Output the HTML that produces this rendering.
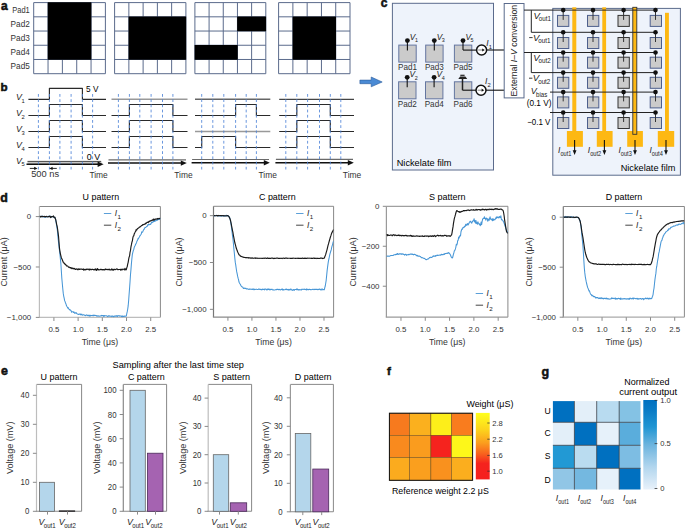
<!DOCTYPE html>
<html><head><meta charset="utf-8"><style>
html,body{margin:0;padding:0;background:#fff;overflow:hidden;width:685px;height:528px;}
svg{display:block;}
text{font-family:"Liberation Sans", sans-serif;}
</style></head><body>
<svg width="685" height="528" viewBox="0 0 685 528" font-family='"Liberation Sans", sans-serif'>
<rect x="0" y="0" width="685" height="528" fill="#fff"/>
<text x="1.00" y="10.00" font-size="12" fill="#111" font-weight="bold" stroke="#111" stroke-width="0.55">a</text>
<line x1="33.70" y1="2.60" x2="33.70" y2="73.70" stroke="#5b6b8c" stroke-width="1" />
<line x1="33.70" y1="2.60" x2="105.40" y2="2.60" stroke="#5b6b8c" stroke-width="1" />
<line x1="48.04" y1="2.60" x2="48.04" y2="73.70" stroke="#5b6b8c" stroke-width="1" />
<line x1="33.70" y1="16.82" x2="105.40" y2="16.82" stroke="#5b6b8c" stroke-width="1" />
<line x1="62.38" y1="2.60" x2="62.38" y2="73.70" stroke="#5b6b8c" stroke-width="1" />
<line x1="33.70" y1="31.04" x2="105.40" y2="31.04" stroke="#5b6b8c" stroke-width="1" />
<line x1="76.72" y1="2.60" x2="76.72" y2="73.70" stroke="#5b6b8c" stroke-width="1" />
<line x1="33.70" y1="45.26" x2="105.40" y2="45.26" stroke="#5b6b8c" stroke-width="1" />
<line x1="91.06" y1="2.60" x2="91.06" y2="73.70" stroke="#5b6b8c" stroke-width="1" />
<line x1="33.70" y1="59.48" x2="105.40" y2="59.48" stroke="#5b6b8c" stroke-width="1" />
<line x1="105.40" y1="2.60" x2="105.40" y2="73.70" stroke="#5b6b8c" stroke-width="1" />
<line x1="33.70" y1="73.70" x2="105.40" y2="73.70" stroke="#5b6b8c" stroke-width="1" />
<path d="M47.74,2.30h14.94v14.82h-14.94ZM62.08,2.30h14.94v14.82h-14.94ZM76.42,2.30h14.94v14.82h-14.94ZM47.74,16.52h14.94v14.82h-14.94ZM62.08,16.52h14.94v14.82h-14.94ZM76.42,16.52h14.94v14.82h-14.94ZM47.74,30.74h14.94v14.82h-14.94ZM62.08,30.74h14.94v14.82h-14.94ZM76.42,30.74h14.94v14.82h-14.94ZM47.74,44.96h14.94v14.82h-14.94ZM62.08,44.96h14.94v14.82h-14.94ZM76.42,44.96h14.94v14.82h-14.94Z" fill="#000"/>
<line x1="114.60" y1="2.60" x2="114.60" y2="73.70" stroke="#5b6b8c" stroke-width="1" />
<line x1="114.60" y1="2.60" x2="185.90" y2="2.60" stroke="#5b6b8c" stroke-width="1" />
<line x1="128.86" y1="2.60" x2="128.86" y2="73.70" stroke="#5b6b8c" stroke-width="1" />
<line x1="114.60" y1="16.82" x2="185.90" y2="16.82" stroke="#5b6b8c" stroke-width="1" />
<line x1="143.12" y1="2.60" x2="143.12" y2="73.70" stroke="#5b6b8c" stroke-width="1" />
<line x1="114.60" y1="31.04" x2="185.90" y2="31.04" stroke="#5b6b8c" stroke-width="1" />
<line x1="157.38" y1="2.60" x2="157.38" y2="73.70" stroke="#5b6b8c" stroke-width="1" />
<line x1="114.60" y1="45.26" x2="185.90" y2="45.26" stroke="#5b6b8c" stroke-width="1" />
<line x1="171.64" y1="2.60" x2="171.64" y2="73.70" stroke="#5b6b8c" stroke-width="1" />
<line x1="114.60" y1="59.48" x2="185.90" y2="59.48" stroke="#5b6b8c" stroke-width="1" />
<line x1="185.90" y1="2.60" x2="185.90" y2="73.70" stroke="#5b6b8c" stroke-width="1" />
<line x1="114.60" y1="73.70" x2="185.90" y2="73.70" stroke="#5b6b8c" stroke-width="1" />
<path d="M128.56,16.52h14.86v14.82h-14.86ZM142.82,16.52h14.86v14.82h-14.86ZM157.08,16.52h14.86v14.82h-14.86ZM171.34,16.52h14.86v14.82h-14.86ZM128.56,30.74h14.86v14.82h-14.86ZM142.82,30.74h14.86v14.82h-14.86ZM157.08,30.74h14.86v14.82h-14.86ZM171.34,30.74h14.86v14.82h-14.86ZM128.56,44.96h14.86v14.82h-14.86ZM142.82,44.96h14.86v14.82h-14.86ZM157.08,44.96h14.86v14.82h-14.86ZM171.34,44.96h14.86v14.82h-14.86Z" fill="#000"/>
<line x1="194.90" y1="2.60" x2="194.90" y2="73.70" stroke="#5b6b8c" stroke-width="1" />
<line x1="194.90" y1="2.60" x2="265.80" y2="2.60" stroke="#5b6b8c" stroke-width="1" />
<line x1="209.08" y1="2.60" x2="209.08" y2="73.70" stroke="#5b6b8c" stroke-width="1" />
<line x1="194.90" y1="16.82" x2="265.80" y2="16.82" stroke="#5b6b8c" stroke-width="1" />
<line x1="223.26" y1="2.60" x2="223.26" y2="73.70" stroke="#5b6b8c" stroke-width="1" />
<line x1="194.90" y1="31.04" x2="265.80" y2="31.04" stroke="#5b6b8c" stroke-width="1" />
<line x1="237.44" y1="2.60" x2="237.44" y2="73.70" stroke="#5b6b8c" stroke-width="1" />
<line x1="194.90" y1="45.26" x2="265.80" y2="45.26" stroke="#5b6b8c" stroke-width="1" />
<line x1="251.62" y1="2.60" x2="251.62" y2="73.70" stroke="#5b6b8c" stroke-width="1" />
<line x1="194.90" y1="59.48" x2="265.80" y2="59.48" stroke="#5b6b8c" stroke-width="1" />
<line x1="265.80" y1="2.60" x2="265.80" y2="73.70" stroke="#5b6b8c" stroke-width="1" />
<line x1="194.90" y1="73.70" x2="265.80" y2="73.70" stroke="#5b6b8c" stroke-width="1" />
<path d="M237.14,16.52h14.78v14.82h-14.78ZM251.32,16.52h14.78v14.82h-14.78ZM194.60,44.96h14.78v14.82h-14.78ZM208.78,44.96h14.78v14.82h-14.78ZM222.96,44.96h14.78v14.82h-14.78Z" fill="#000"/>
<line x1="278.60" y1="2.60" x2="278.60" y2="73.70" stroke="#5b6b8c" stroke-width="1" />
<line x1="278.60" y1="2.60" x2="350.00" y2="2.60" stroke="#5b6b8c" stroke-width="1" />
<line x1="292.88" y1="2.60" x2="292.88" y2="73.70" stroke="#5b6b8c" stroke-width="1" />
<line x1="278.60" y1="16.82" x2="350.00" y2="16.82" stroke="#5b6b8c" stroke-width="1" />
<line x1="307.16" y1="2.60" x2="307.16" y2="73.70" stroke="#5b6b8c" stroke-width="1" />
<line x1="278.60" y1="31.04" x2="350.00" y2="31.04" stroke="#5b6b8c" stroke-width="1" />
<line x1="321.44" y1="2.60" x2="321.44" y2="73.70" stroke="#5b6b8c" stroke-width="1" />
<line x1="278.60" y1="45.26" x2="350.00" y2="45.26" stroke="#5b6b8c" stroke-width="1" />
<line x1="335.72" y1="2.60" x2="335.72" y2="73.70" stroke="#5b6b8c" stroke-width="1" />
<line x1="278.60" y1="59.48" x2="350.00" y2="59.48" stroke="#5b6b8c" stroke-width="1" />
<line x1="350.00" y1="2.60" x2="350.00" y2="73.70" stroke="#5b6b8c" stroke-width="1" />
<line x1="278.60" y1="73.70" x2="350.00" y2="73.70" stroke="#5b6b8c" stroke-width="1" />
<path d="M292.58,16.52h14.88v14.82h-14.88ZM306.86,16.52h14.88v14.82h-14.88ZM321.14,16.52h14.88v14.82h-14.88ZM292.58,30.74h14.88v14.82h-14.88ZM306.86,30.74h14.88v14.82h-14.88ZM321.14,30.74h14.88v14.82h-14.88ZM292.58,44.96h14.88v14.82h-14.88ZM306.86,44.96h14.88v14.82h-14.88ZM321.14,44.96h14.88v14.82h-14.88Z" fill="#000"/>
<text x="29.80" y="12.51" font-size="9.0" text-anchor="end" fill="#333" textLength="17.5" lengthAdjust="spacingAndGlyphs" >Pad1</text>
<text x="29.80" y="26.73" font-size="9.0" text-anchor="end" fill="#333" textLength="19.2" lengthAdjust="spacingAndGlyphs" >Pad2</text>
<text x="29.80" y="40.95" font-size="9.0" text-anchor="end" fill="#333" textLength="19.2" lengthAdjust="spacingAndGlyphs" >Pad3</text>
<text x="29.80" y="55.17" font-size="9.0" text-anchor="end" fill="#333" textLength="19.2" lengthAdjust="spacingAndGlyphs" >Pad4</text>
<text x="29.80" y="69.39" font-size="9.0" text-anchor="end" fill="#333" textLength="19.2" lengthAdjust="spacingAndGlyphs" >Pad5</text>
<text x="0.60" y="90.60" font-size="11.6" fill="#111" font-weight="bold" stroke="#111" stroke-width="0.55">b</text>
<polyline points="28.40,99.30 49.40,99.30 49.40,88.30 82.40,88.30 82.40,99.30 106.00,99.30" fill="none" stroke="#2a2a2a" stroke-width="1.15" stroke-linejoin="round" />
<polyline points="28.40,115.50 49.40,115.50 49.40,104.50 82.40,104.50 82.40,115.50 106.00,115.50" fill="none" stroke="#2a2a2a" stroke-width="1.15" stroke-linejoin="round" />
<polyline points="28.40,131.50 49.40,131.50 49.40,120.50 82.40,120.50 82.40,131.50 106.00,131.50" fill="none" stroke="#2a2a2a" stroke-width="1.15" stroke-linejoin="round" />
<polyline points="28.40,147.50 49.40,147.50 49.40,136.50 82.40,136.50 82.40,147.50 106.00,147.50" fill="none" stroke="#2a2a2a" stroke-width="1.15" stroke-linejoin="round" />
<rect x="27.50" y="161.40" width="74.10" height="2.80" fill="#c8c8c8" stroke="none" stroke-width="1" />
<line x1="27.50" y1="161.40" x2="101.10" y2="161.40" stroke="#333" stroke-width="0.9" />
<line x1="26.50" y1="164.20" x2="99.60" y2="164.20" stroke="#111" stroke-width="1.5" />
<path d="M103.60,164.2 L97.60,161.50 L97.60,166.90 Z" fill="#111"/>
<line x1="38.40" y1="94.00" x2="38.40" y2="169.50" stroke="#4f84d8" stroke-width="0.85" stroke-dasharray="2.8,2.4"/>
<line x1="49.40" y1="94.00" x2="49.40" y2="169.50" stroke="#4f84d8" stroke-width="0.85" stroke-dasharray="2.8,2.4"/>
<line x1="59.90" y1="94.00" x2="59.90" y2="169.50" stroke="#4f84d8" stroke-width="0.85" stroke-dasharray="2.8,2.4"/>
<line x1="71.10" y1="94.00" x2="71.10" y2="169.50" stroke="#4f84d8" stroke-width="0.85" stroke-dasharray="2.8,2.4"/>
<line x1="82.40" y1="94.00" x2="82.40" y2="169.50" stroke="#4f84d8" stroke-width="0.85" stroke-dasharray="2.8,2.4"/>
<line x1="92.60" y1="94.00" x2="92.60" y2="169.50" stroke="#4f84d8" stroke-width="0.85" stroke-dasharray="2.8,2.4"/>
<text x="89.40" y="177.60" font-size="8.8" fill="#333" textLength="18.4" lengthAdjust="spacingAndGlyphs" >Time</text>
<line x1="111.50" y1="99.30" x2="187.50" y2="99.30" stroke="#999" stroke-width="1.6" />
<polyline points="111.50,115.50 129.40,115.50 129.40,104.50 172.90,104.50 172.90,115.50 187.50,115.50" fill="none" stroke="#2a2a2a" stroke-width="1.15" stroke-linejoin="round" />
<polyline points="111.50,131.50 129.40,131.50 129.40,120.50 172.90,120.50 172.90,131.50 187.50,131.50" fill="none" stroke="#2a2a2a" stroke-width="1.15" stroke-linejoin="round" />
<polyline points="111.50,147.50 129.40,147.50 129.40,136.50 172.90,136.50 172.90,147.50 187.50,147.50" fill="none" stroke="#2a2a2a" stroke-width="1.15" stroke-linejoin="round" />
<line x1="108.50" y1="159.90" x2="186.00" y2="159.90" stroke="#6a6a6a" stroke-width="1.1" />
<line x1="108.00" y1="163.10" x2="182.80" y2="163.10" stroke="#111" stroke-width="1.5" />
<path d="M186.80,163.1 L180.80,160.40 L180.80,165.80 Z" fill="#111"/>
<line x1="118.40" y1="94.00" x2="118.40" y2="169.50" stroke="#4f84d8" stroke-width="0.85" stroke-dasharray="2.8,2.4"/>
<line x1="129.40" y1="94.00" x2="129.40" y2="169.50" stroke="#4f84d8" stroke-width="0.85" stroke-dasharray="2.8,2.4"/>
<line x1="139.80" y1="94.00" x2="139.80" y2="169.50" stroke="#4f84d8" stroke-width="0.85" stroke-dasharray="2.8,2.4"/>
<line x1="151.10" y1="94.00" x2="151.10" y2="169.50" stroke="#4f84d8" stroke-width="0.85" stroke-dasharray="2.8,2.4"/>
<line x1="162.50" y1="94.00" x2="162.50" y2="169.50" stroke="#4f84d8" stroke-width="0.85" stroke-dasharray="2.8,2.4"/>
<line x1="172.90" y1="94.00" x2="172.90" y2="169.50" stroke="#4f84d8" stroke-width="0.85" stroke-dasharray="2.8,2.4"/>
<text x="174.20" y="177.60" font-size="8.8" fill="#333" textLength="18.4" lengthAdjust="spacingAndGlyphs" >Time</text>
<line x1="195.00" y1="99.30" x2="270.30" y2="99.30" stroke="#666" stroke-width="1.4" />
<polyline points="195.00,115.50 235.60,115.50 235.60,104.50 256.40,104.50 256.40,115.50 270.30,115.50" fill="none" stroke="#2a2a2a" stroke-width="1.15" stroke-linejoin="round" />
<line x1="195.00" y1="131.50" x2="270.30" y2="131.50" stroke="#999" stroke-width="1.6" />
<polyline points="195.00,147.50 201.70,147.50 201.70,136.50 235.60,136.50 235.60,147.50 270.30,147.50" fill="none" stroke="#2a2a2a" stroke-width="1.15" stroke-linejoin="round" />
<line x1="192.10" y1="159.50" x2="269.00" y2="159.50" stroke="#6a6a6a" stroke-width="1.1" />
<line x1="191.60" y1="162.80" x2="265.80" y2="162.80" stroke="#111" stroke-width="1.5" />
<path d="M269.80,162.8 L263.80,160.10 L263.80,165.50 Z" fill="#111"/>
<line x1="201.70" y1="94.00" x2="201.70" y2="169.50" stroke="#4f84d8" stroke-width="0.85" stroke-dasharray="2.8,2.4"/>
<line x1="212.80" y1="94.00" x2="212.80" y2="169.50" stroke="#4f84d8" stroke-width="0.85" stroke-dasharray="2.8,2.4"/>
<line x1="223.80" y1="94.00" x2="223.80" y2="169.50" stroke="#4f84d8" stroke-width="0.85" stroke-dasharray="2.8,2.4"/>
<line x1="235.60" y1="94.00" x2="235.60" y2="169.50" stroke="#4f84d8" stroke-width="0.85" stroke-dasharray="2.8,2.4"/>
<line x1="246.20" y1="94.00" x2="246.20" y2="169.50" stroke="#4f84d8" stroke-width="0.85" stroke-dasharray="2.8,2.4"/>
<line x1="256.40" y1="94.00" x2="256.40" y2="169.50" stroke="#4f84d8" stroke-width="0.85" stroke-dasharray="2.8,2.4"/>
<text x="258.50" y="177.60" font-size="8.8" fill="#333" textLength="18.4" lengthAdjust="spacingAndGlyphs" >Time</text>
<line x1="279.20" y1="99.30" x2="354.00" y2="99.30" stroke="#444" stroke-width="1.2" />
<polyline points="279.20,115.50 296.80,115.50 296.80,104.50 330.30,104.50 330.30,115.50 354.00,115.50" fill="none" stroke="#2a2a2a" stroke-width="1.15" stroke-linejoin="round" />
<polyline points="279.20,131.50 296.80,131.50 296.80,120.50 330.30,120.50 330.30,131.50 354.00,131.50" fill="none" stroke="#2a2a2a" stroke-width="1.15" stroke-linejoin="round" />
<polyline points="279.20,147.50 296.80,147.50 296.80,136.50 330.30,136.50 330.30,147.50 354.00,147.50" fill="none" stroke="#2a2a2a" stroke-width="1.15" stroke-linejoin="round" />
<line x1="275.90" y1="159.40" x2="353.00" y2="159.40" stroke="#6a6a6a" stroke-width="1.1" />
<line x1="275.40" y1="162.80" x2="349.80" y2="162.80" stroke="#111" stroke-width="1.5" />
<path d="M353.80,162.8 L347.80,160.10 L347.80,165.50 Z" fill="#111"/>
<line x1="285.80" y1="94.00" x2="285.80" y2="169.50" stroke="#4f84d8" stroke-width="0.85" stroke-dasharray="2.8,2.4"/>
<line x1="296.80" y1="94.00" x2="296.80" y2="169.50" stroke="#4f84d8" stroke-width="0.85" stroke-dasharray="2.8,2.4"/>
<line x1="307.60" y1="94.00" x2="307.60" y2="169.50" stroke="#4f84d8" stroke-width="0.85" stroke-dasharray="2.8,2.4"/>
<line x1="319.50" y1="94.00" x2="319.50" y2="169.50" stroke="#4f84d8" stroke-width="0.85" stroke-dasharray="2.8,2.4"/>
<line x1="330.30" y1="94.00" x2="330.30" y2="169.50" stroke="#4f84d8" stroke-width="0.85" stroke-dasharray="2.8,2.4"/>
<line x1="340.80" y1="94.00" x2="340.80" y2="169.50" stroke="#4f84d8" stroke-width="0.85" stroke-dasharray="2.8,2.4"/>
<text x="342.80" y="177.60" font-size="8.8" fill="#333" textLength="18.4" lengthAdjust="spacingAndGlyphs" >Time</text>
<text x="16.00" y="100.10" font-size="8.8" fill="#222"><tspan font-style="italic">V</tspan><tspan font-size="5.80" dx="-0.5" dy="2.4">1</tspan></text>
<text x="16.00" y="116.30" font-size="8.8" fill="#222"><tspan font-style="italic">V</tspan><tspan font-size="5.80" dx="-0.5" dy="2.4">2</tspan></text>
<text x="16.00" y="132.30" font-size="8.8" fill="#222"><tspan font-style="italic">V</tspan><tspan font-size="5.80" dx="-0.5" dy="2.4">3</tspan></text>
<text x="16.00" y="148.30" font-size="8.8" fill="#222"><tspan font-style="italic">V</tspan><tspan font-size="5.80" dx="-0.5" dy="2.4">4</tspan></text>
<text x="16.00" y="163.50" font-size="8.8" fill="#222"><tspan font-style="italic">V</tspan><tspan font-size="5.80" dx="-0.5" dy="2.4">5</tspan></text>
<text x="86.00" y="91.80" font-size="8.6" textLength="12.4" lengthAdjust="spacingAndGlyphs" >5 V</text>
<text x="86.80" y="159.50" font-size="8.6" textLength="13.4" lengthAdjust="spacingAndGlyphs" >0 V</text>
<text x="31.20" y="177.30" font-size="8.4" fill="#333" textLength="28" lengthAdjust="spacingAndGlyphs" >500 ns</text>
<line x1="29.80" y1="168.40" x2="35.50" y2="168.40" stroke="#111" stroke-width="0.9" />
<path d="M37.5,168.4 L34.2,166.7 L34.2,170.1 Z" fill="#111"/>
<line x1="56.80" y1="168.40" x2="51.30" y2="168.40" stroke="#111" stroke-width="0.9" />
<path d="M49.3,168.4 L52.6,166.7 L52.6,170.1 Z" fill="#111"/>
<path d="M359.9,80.1 L371.2,80.1 L371.2,77.0 L382.2,82.0 L371.2,86.8 L371.2,83.7 L359.9,83.7 Z" fill="#4a8ad4" stroke="#2a5a9a" stroke-width="0.6"/>
<text x="380.80" y="6.80" font-size="12" fill="#111" font-weight="bold" stroke="#111" stroke-width="0.55">c</text>
<rect x="392.40" y="3.30" width="101.10" height="166.70" fill="#eef3fb" stroke="#5b6b8c" stroke-width="1" />
<rect x="398.80" y="45.10" width="17.40" height="17.00" fill="#cbcbcb" stroke="#6476a0" stroke-width="1" />
<text x="407.50" y="70.00" font-size="8.4" text-anchor="middle" fill="#333" textLength="19.0" lengthAdjust="spacingAndGlyphs" >Pad1</text>
<rect x="425.70" y="45.10" width="17.40" height="17.00" fill="#cbcbcb" stroke="#6476a0" stroke-width="1" />
<text x="434.40" y="70.00" font-size="8.4" text-anchor="middle" fill="#333" textLength="19.0" lengthAdjust="spacingAndGlyphs" >Pad3</text>
<rect x="454.40" y="45.10" width="17.40" height="17.00" fill="#cbcbcb" stroke="#6476a0" stroke-width="1" />
<text x="463.10" y="70.00" font-size="8.4" text-anchor="middle" fill="#333" textLength="19.0" lengthAdjust="spacingAndGlyphs" >Pad5</text>
<rect x="398.60" y="81.80" width="17.40" height="17.00" fill="#cbcbcb" stroke="#6476a0" stroke-width="1" />
<text x="407.30" y="107.40" font-size="8.4" text-anchor="middle" fill="#333" textLength="19.0" lengthAdjust="spacingAndGlyphs" >Pad2</text>
<rect x="425.50" y="81.80" width="17.40" height="17.00" fill="#cbcbcb" stroke="#6476a0" stroke-width="1" />
<text x="434.20" y="107.40" font-size="8.4" text-anchor="middle" fill="#333" textLength="19.0" lengthAdjust="spacingAndGlyphs" >Pad4</text>
<rect x="454.40" y="81.80" width="17.40" height="17.00" fill="#cbcbcb" stroke="#6476a0" stroke-width="1" />
<text x="463.10" y="107.40" font-size="8.4" text-anchor="middle" fill="#333" textLength="19.0" lengthAdjust="spacingAndGlyphs" >Pad6</text>
<line x1="407.40" y1="40.60" x2="407.40" y2="50.60" stroke="#111" stroke-width="1.1" />
<circle cx="407.40" cy="40.60" r="2.4" fill="#111"/>
<text x="409.80" y="39.50" font-size="8.3" fill="#222"><tspan font-style="italic">V</tspan><tspan font-size="5.40" dx="-0.4" dy="2.3">1</tspan></text>
<line x1="434.30" y1="40.60" x2="434.30" y2="50.60" stroke="#111" stroke-width="1.1" />
<circle cx="434.30" cy="40.60" r="2.4" fill="#111"/>
<text x="436.70" y="39.50" font-size="8.3" fill="#222"><tspan font-style="italic">V</tspan><tspan font-size="5.40" dx="-0.4" dy="2.3">3</tspan></text>
<line x1="463.00" y1="40.60" x2="463.00" y2="50.10" stroke="#111" stroke-width="1.1" />
<circle cx="463.00" cy="40.60" r="2.4" fill="#111"/>
<text x="465.40" y="39.50" font-size="8.3" fill="#222"><tspan font-style="italic">V</tspan><tspan font-size="5.40" dx="-0.4" dy="2.3">5</tspan></text>
<line x1="407.20" y1="77.30" x2="407.20" y2="87.30" stroke="#111" stroke-width="1.1" />
<circle cx="407.20" cy="77.30" r="2.4" fill="#111"/>
<text x="409.60" y="77.20" font-size="8.3" fill="#222"><tspan font-style="italic">V</tspan><tspan font-size="5.40" dx="-0.4" dy="2.3">2</tspan></text>
<line x1="434.10" y1="77.30" x2="434.10" y2="87.30" stroke="#111" stroke-width="1.1" />
<circle cx="434.10" cy="77.30" r="2.4" fill="#111"/>
<text x="436.50" y="77.20" font-size="8.3" fill="#222"><tspan font-style="italic">V</tspan><tspan font-size="5.40" dx="-0.4" dy="2.3">4</tspan></text>
<line x1="463.00" y1="50.10" x2="476.50" y2="50.10" stroke="#111" stroke-width="1.1" />
<line x1="460.30" y1="75.30" x2="464.60" y2="75.30" stroke="#222" stroke-width="1.2" />
<path d="M458.3,79.0 L467.2,79.0 L465.4,76.6 L460.1,76.6 Z" fill="#222"/>
<line x1="462.50" y1="78.00" x2="462.50" y2="90.20" stroke="#222" stroke-width="1.5" />
<line x1="462.50" y1="90.20" x2="476.00" y2="90.20" stroke="#111" stroke-width="1.1" />
<circle cx="481.6" cy="50.0" r="5.0" fill="#fff" stroke="#111" stroke-width="1.5"/>
<line x1="478.20" y1="50.00" x2="482.60" y2="50.00" stroke="#888" stroke-width="1.0" />
<path d="M484.8,50.0 L482.20000000000005,48.4 L482.20000000000005,51.6 Z" fill="#111"/>
<line x1="486.50" y1="50.00" x2="504.20" y2="50.00" stroke="#111" stroke-width="1.1" />
<circle cx="481.0" cy="90.2" r="5.0" fill="#fff" stroke="#111" stroke-width="1.5"/>
<line x1="477.60" y1="90.20" x2="482.00" y2="90.20" stroke="#888" stroke-width="1.0" />
<path d="M484.2,90.2 L481.6,88.60000000000001 L481.6,91.8 Z" fill="#111"/>
<line x1="485.90" y1="90.20" x2="504.20" y2="90.20" stroke="#111" stroke-width="1.1" />
<text x="486.30" y="45.90" font-size="8.4" fill="#222"><tspan font-style="italic">I</tspan><tspan font-size="5.80" dx="0.1" dy="3.3">1</tspan></text>
<text x="485.00" y="84.30" font-size="8.4" fill="#222"><tspan font-style="italic">I</tspan><tspan font-size="5.80" dx="0.1" dy="2.2">2</tspan></text>
<text x="396.70" y="165.60" font-size="8.5" textLength="54.8" lengthAdjust="spacingAndGlyphs" >Nickelate film</text>
<rect x="504.20" y="3.50" width="19.80" height="94.40" fill="#fff" stroke="#5b6b8c" stroke-width="1" />
<text x="517.3" y="96.4" font-size="9" fill="#222" transform="rotate(-90 517.3 96.4)" textLength="91.5" lengthAdjust="spacingAndGlyphs">External <tspan font-style="italic">I</tspan>–<tspan font-style="italic">V</tspan> conversion</text>
<rect x="552.80" y="8.40" width="127.60" height="166.80" fill="#eef3fb" stroke="#5b6b8c" stroke-width="1" />
<rect x="572.30" y="7.30" width="4.00" height="124.20" fill="#fdb813" stroke="none" stroke-width="1" />
<rect x="602.30" y="7.30" width="3.80" height="124.20" fill="#fdb813" stroke="none" stroke-width="1" />
<rect x="632.80" y="7.30" width="4.00" height="124.20" fill="#fdb813" stroke="none" stroke-width="1" />
<rect x="665.00" y="12.80" width="3.90" height="118.70" fill="#fdb813" stroke="none" stroke-width="1" />
<rect x="566.90" y="131.00" width="16.00" height="15.80" fill="#fdb813" stroke="none" stroke-width="1" />
<rect x="596.80" y="131.00" width="15.80" height="15.80" fill="#fdb813" stroke="none" stroke-width="1" />
<rect x="627.20" y="131.00" width="15.70" height="15.80" fill="#fdb813" stroke="none" stroke-width="1" />
<rect x="657.80" y="131.00" width="16.40" height="15.80" fill="#fdb813" stroke="none" stroke-width="1" />
<rect x="632.80" y="7.30" width="4.00" height="127.00" fill="none" stroke="#333" stroke-width="0.9" />
<line x1="524.00" y1="10.10" x2="655.50" y2="10.10" stroke="#222" stroke-width="1.0" />
<line x1="531.30" y1="32.30" x2="655.50" y2="32.30" stroke="#222" stroke-width="1.0" />
<line x1="524.00" y1="52.50" x2="655.50" y2="52.50" stroke="#222" stroke-width="1.0" />
<line x1="531.30" y1="72.60" x2="655.50" y2="72.60" stroke="#222" stroke-width="1.0" />
<line x1="550.00" y1="92.10" x2="655.50" y2="92.10" stroke="#222" stroke-width="1.0" />
<line x1="550.00" y1="112.50" x2="655.50" y2="112.50" stroke="#222" stroke-width="1.0" />
<line x1="531.30" y1="10.10" x2="531.30" y2="32.30" stroke="#222" stroke-width="1.0" />
<line x1="531.30" y1="52.50" x2="531.30" y2="72.60" stroke="#222" stroke-width="1.0" />
<rect x="557.50" y="15.40" width="11.30" height="11.00" fill="#cbcbcb" stroke="#4d5f8c" stroke-width="1.0" />
<line x1="563.20" y1="10.10" x2="563.20" y2="19.90" stroke="#333" stroke-width="1.0" />
<circle cx="563.2" cy="10.1" r="2.3" fill="#111"/>
<rect x="587.50" y="15.40" width="11.30" height="11.00" fill="#cbcbcb" stroke="#4d5f8c" stroke-width="1.0" />
<line x1="593.00" y1="10.10" x2="593.00" y2="19.90" stroke="#333" stroke-width="1.0" />
<circle cx="593.0" cy="10.1" r="2.3" fill="#111"/>
<rect x="618.00" y="15.40" width="11.30" height="11.00" fill="#cbcbcb" stroke="#333" stroke-width="1.0" />
<line x1="623.60" y1="10.10" x2="623.60" y2="19.90" stroke="#333" stroke-width="1.0" />
<circle cx="623.6" cy="10.1" r="2.3" fill="#111"/>
<rect x="650.20" y="15.40" width="11.30" height="11.00" fill="#cbcbcb" stroke="#4d5f8c" stroke-width="1.0" />
<line x1="655.50" y1="10.10" x2="655.50" y2="19.90" stroke="#333" stroke-width="1.0" />
<circle cx="655.5" cy="10.1" r="2.3" fill="#111"/>
<rect x="557.50" y="37.50" width="11.30" height="11.00" fill="#cbcbcb" stroke="#4d5f8c" stroke-width="1.0" />
<line x1="563.20" y1="32.30" x2="563.20" y2="42.00" stroke="#333" stroke-width="1.0" />
<circle cx="563.2" cy="32.3" r="2.3" fill="#111"/>
<rect x="587.50" y="37.50" width="11.30" height="11.00" fill="#cbcbcb" stroke="#4d5f8c" stroke-width="1.0" />
<line x1="593.00" y1="32.30" x2="593.00" y2="42.00" stroke="#333" stroke-width="1.0" />
<circle cx="593.0" cy="32.3" r="2.3" fill="#111"/>
<rect x="618.00" y="37.50" width="11.30" height="11.00" fill="#cbcbcb" stroke="#333" stroke-width="1.0" />
<line x1="623.60" y1="32.30" x2="623.60" y2="42.00" stroke="#333" stroke-width="1.0" />
<circle cx="623.6" cy="32.3" r="2.3" fill="#111"/>
<rect x="650.20" y="37.50" width="11.30" height="11.00" fill="#cbcbcb" stroke="#4d5f8c" stroke-width="1.0" />
<line x1="655.50" y1="32.30" x2="655.50" y2="42.00" stroke="#333" stroke-width="1.0" />
<circle cx="655.5" cy="32.3" r="2.3" fill="#111"/>
<rect x="557.50" y="57.20" width="11.30" height="11.00" fill="#cbcbcb" stroke="#4d5f8c" stroke-width="1.0" />
<line x1="563.20" y1="52.50" x2="563.20" y2="61.70" stroke="#333" stroke-width="1.0" />
<circle cx="563.2" cy="52.5" r="2.3" fill="#111"/>
<rect x="587.50" y="57.20" width="11.30" height="11.00" fill="#cbcbcb" stroke="#4d5f8c" stroke-width="1.0" />
<line x1="593.00" y1="52.50" x2="593.00" y2="61.70" stroke="#333" stroke-width="1.0" />
<circle cx="593.0" cy="52.5" r="2.3" fill="#111"/>
<rect x="618.00" y="57.20" width="11.30" height="11.00" fill="#cbcbcb" stroke="#333" stroke-width="1.0" />
<line x1="623.60" y1="52.50" x2="623.60" y2="61.70" stroke="#333" stroke-width="1.0" />
<circle cx="623.6" cy="52.5" r="2.3" fill="#111"/>
<rect x="650.20" y="57.20" width="11.30" height="11.00" fill="#cbcbcb" stroke="#4d5f8c" stroke-width="1.0" />
<line x1="655.50" y1="52.50" x2="655.50" y2="61.70" stroke="#333" stroke-width="1.0" />
<circle cx="655.5" cy="52.5" r="2.3" fill="#111"/>
<rect x="557.50" y="77.30" width="11.30" height="11.00" fill="#cbcbcb" stroke="#4d5f8c" stroke-width="1.0" />
<line x1="563.20" y1="72.60" x2="563.20" y2="81.80" stroke="#333" stroke-width="1.0" />
<circle cx="563.2" cy="72.6" r="2.3" fill="#111"/>
<rect x="587.50" y="77.30" width="11.30" height="11.00" fill="#cbcbcb" stroke="#4d5f8c" stroke-width="1.0" />
<line x1="593.00" y1="72.60" x2="593.00" y2="81.80" stroke="#333" stroke-width="1.0" />
<circle cx="593.0" cy="72.6" r="2.3" fill="#111"/>
<rect x="618.00" y="77.30" width="11.30" height="11.00" fill="#cbcbcb" stroke="#333" stroke-width="1.0" />
<line x1="623.60" y1="72.60" x2="623.60" y2="81.80" stroke="#333" stroke-width="1.0" />
<circle cx="623.6" cy="72.6" r="2.3" fill="#111"/>
<rect x="650.20" y="77.30" width="11.30" height="11.00" fill="#cbcbcb" stroke="#4d5f8c" stroke-width="1.0" />
<line x1="655.50" y1="72.60" x2="655.50" y2="81.80" stroke="#333" stroke-width="1.0" />
<circle cx="655.5" cy="72.6" r="2.3" fill="#111"/>
<rect x="557.50" y="96.90" width="11.30" height="11.00" fill="#cbcbcb" stroke="#4d5f8c" stroke-width="1.0" />
<line x1="563.20" y1="92.10" x2="563.20" y2="101.40" stroke="#333" stroke-width="1.0" />
<circle cx="563.2" cy="92.1" r="2.3" fill="#111"/>
<rect x="587.50" y="96.90" width="11.30" height="11.00" fill="#cbcbcb" stroke="#4d5f8c" stroke-width="1.0" />
<line x1="593.00" y1="92.10" x2="593.00" y2="101.40" stroke="#333" stroke-width="1.0" />
<circle cx="593.0" cy="92.1" r="2.3" fill="#111"/>
<rect x="618.00" y="96.90" width="11.30" height="11.00" fill="#cbcbcb" stroke="#333" stroke-width="1.0" />
<line x1="623.60" y1="92.10" x2="623.60" y2="101.40" stroke="#333" stroke-width="1.0" />
<circle cx="623.6" cy="92.1" r="2.3" fill="#111"/>
<rect x="650.20" y="96.90" width="11.30" height="11.00" fill="#cbcbcb" stroke="#4d5f8c" stroke-width="1.0" />
<line x1="655.50" y1="92.10" x2="655.50" y2="101.40" stroke="#333" stroke-width="1.0" />
<circle cx="655.5" cy="92.1" r="2.3" fill="#111"/>
<rect x="557.50" y="117.50" width="11.30" height="11.00" fill="#cbcbcb" stroke="#4d5f8c" stroke-width="1.0" />
<line x1="563.20" y1="112.50" x2="563.20" y2="122.00" stroke="#333" stroke-width="1.0" />
<circle cx="563.2" cy="112.5" r="2.3" fill="#111"/>
<rect x="587.50" y="117.50" width="11.30" height="11.00" fill="#cbcbcb" stroke="#4d5f8c" stroke-width="1.0" />
<line x1="593.00" y1="112.50" x2="593.00" y2="122.00" stroke="#333" stroke-width="1.0" />
<circle cx="593.0" cy="112.5" r="2.3" fill="#111"/>
<rect x="618.00" y="117.50" width="11.30" height="11.00" fill="#cbcbcb" stroke="#333" stroke-width="1.0" />
<line x1="623.60" y1="112.50" x2="623.60" y2="122.00" stroke="#333" stroke-width="1.0" />
<circle cx="623.6" cy="112.5" r="2.3" fill="#111"/>
<rect x="650.20" y="117.50" width="11.30" height="11.00" fill="#cbcbcb" stroke="#4d5f8c" stroke-width="1.0" />
<line x1="655.50" y1="112.50" x2="655.50" y2="122.00" stroke="#333" stroke-width="1.0" />
<circle cx="655.5" cy="112.5" r="2.3" fill="#111"/>
<line x1="574.60" y1="140.00" x2="574.60" y2="151.00" stroke="#111" stroke-width="1.1" />
<path d="M574.6,155.0 L572.7,150.2 L576.5,150.2 Z" fill="#111"/>
<line x1="604.40" y1="140.00" x2="604.40" y2="151.00" stroke="#111" stroke-width="1.1" />
<path d="M604.4,155.0 L602.5,150.2 L606.3,150.2 Z" fill="#111"/>
<line x1="635.00" y1="140.00" x2="635.00" y2="151.00" stroke="#111" stroke-width="1.1" />
<path d="M635.0,155.0 L633.1,150.2 L636.9,150.2 Z" fill="#111"/>
<line x1="666.00" y1="140.00" x2="666.00" y2="151.00" stroke="#111" stroke-width="1.1" />
<path d="M666.0,155.0 L664.1,150.2 L667.9,150.2 Z" fill="#111"/>
<text x="558.00" y="152.70" font-size="8.3" fill="#222"><tspan font-style="italic">I</tspan><tspan font-size="7.20" dx="0.1" dy="3.1" textLength="11.0" lengthAdjust="spacingAndGlyphs">out1</tspan></text>
<text x="587.80" y="152.70" font-size="8.3" fill="#222"><tspan font-style="italic">I</tspan><tspan font-size="7.20" dx="0.1" dy="3.1" textLength="11.0" lengthAdjust="spacingAndGlyphs">out2</tspan></text>
<text x="618.40" y="152.70" font-size="8.3" fill="#222"><tspan font-style="italic">I</tspan><tspan font-size="7.20" dx="0.1" dy="3.1" textLength="11.0" lengthAdjust="spacingAndGlyphs">out3</tspan></text>
<text x="649.40" y="152.70" font-size="8.3" fill="#222"><tspan font-style="italic">I</tspan><tspan font-size="7.20" dx="0.1" dy="3.1" textLength="11.0" lengthAdjust="spacingAndGlyphs">out4</tspan></text>
<text x="620.70" y="170.60" font-size="8.5" textLength="54.7" lengthAdjust="spacingAndGlyphs" >Nickelate film</text>
<text x="533.50" y="18.80" font-size="9.5" fill="#222"><tspan font-style="italic">V</tspan><tspan font-size="7.40" dx="-1.0" dy="2.5" textLength="12.2" lengthAdjust="spacingAndGlyphs">out1</tspan></text>
<text x="533.00" y="40.60" font-size="9.5" fill="#222"><tspan font-style="italic">V</tspan><tspan font-size="7.40" dx="-1.0" dy="2.5" textLength="12.2" lengthAdjust="spacingAndGlyphs">out1</tspan></text>
<line x1="529.20" y1="37.60" x2="532.60" y2="37.60" stroke="#222" stroke-width="0.9" />
<text x="533.20" y="60.70" font-size="9.5" fill="#222"><tspan font-style="italic">V</tspan><tspan font-size="7.40" dx="-1.0" dy="2.5" textLength="12.2" lengthAdjust="spacingAndGlyphs">out2</tspan></text>
<text x="532.80" y="81.20" font-size="9.5" fill="#222"><tspan font-style="italic">V</tspan><tspan font-size="7.40" dx="-1.0" dy="2.5" textLength="12.2" lengthAdjust="spacingAndGlyphs">out2</tspan></text>
<line x1="529.00" y1="78.20" x2="532.40" y2="78.20" stroke="#222" stroke-width="0.9" />
<text x="530.80" y="94.30" font-size="9.0" fill="#222"><tspan font-style="italic">V</tspan><tspan font-size="6.80" dx="-0.8" dy="2.6" textLength="11.2" lengthAdjust="spacingAndGlyphs">bias</tspan></text>
<text x="526.70" y="106.00" font-size="8.9" textLength="24.7" lengthAdjust="spacingAndGlyphs" >(0.1 V)</text>
<text x="527.20" y="124.60" font-size="8.9" textLength="23.2" lengthAdjust="spacingAndGlyphs" >−0.1 V</text>
<text x="0.20" y="202.20" font-size="12.4" fill="#111" font-weight="bold" stroke="#111" stroke-width="0.55">d</text>
<g>
<line x1="39.40" y1="206.50" x2="160.40" y2="206.50" stroke="#7a7a7a" stroke-width="0.9" />
<line x1="160.40" y1="206.50" x2="160.40" y2="317.40" stroke="#7a7a7a" stroke-width="0.9" />
<line x1="39.40" y1="206.50" x2="39.40" y2="317.40" stroke="#bdbdbd" stroke-width="1.2" />
<line x1="38.80" y1="317.40" x2="160.40" y2="317.40" stroke="#bdbdbd" stroke-width="1.2" />
<clipPath id="cp0"><rect x="39.4" y="206.5" width="121.0" height="110.89999999999998"/></clipPath>
<g clip-path="url(#cp0)">
<polyline points="39.40,216.54 39.87,216.63 40.33,216.36 40.80,216.54 41.27,216.77 41.74,216.45 42.20,216.12 42.67,216.25 43.14,216.83 43.60,217.03 44.07,216.80 44.54,216.57 45.01,217.40 45.47,216.66 45.94,217.02 46.41,216.84 46.87,216.77 47.34,216.69 47.81,216.44 48.28,216.21 48.74,216.63 49.21,216.10 49.68,216.82 50.15,216.46 50.61,216.26 51.08,216.55 51.55,216.84 52.01,216.91 52.48,216.74 52.95,216.50 53.42,217.00 53.88,216.91 54.35,217.19 54.82,217.33 55.28,218.33 55.75,220.18 56.22,223.12 56.69,225.84 57.15,228.77 57.62,232.79 58.09,238.55 58.55,242.33 59.02,246.63 59.49,250.64 59.96,254.66 60.42,259.16 60.89,263.93 61.36,271.16 61.82,278.21 62.29,283.48 62.76,288.48 63.23,293.13 63.69,296.02 64.16,298.13 64.63,300.63 65.09,301.63 65.56,303.01 66.03,304.12 66.50,305.82 66.96,306.53 67.43,307.21 67.90,308.14 68.37,307.74 68.83,309.11 69.30,309.35 69.77,310.04 70.23,309.83 70.70,310.31 71.17,310.90 71.64,312.20 72.10,311.65 72.57,311.65 73.04,311.76 73.50,312.54 73.97,311.88 74.44,313.18 74.91,313.14 75.37,312.76 75.84,313.24 76.31,312.72 76.77,313.51 77.24,313.95 77.71,314.01 78.18,314.39 78.64,314.59 79.11,314.03 79.58,314.16 80.04,314.01 80.51,314.83 80.98,314.06 81.45,314.83 81.91,314.25 82.38,315.02 82.85,315.18 83.32,314.88 83.78,314.65 84.25,314.99 84.72,315.29 85.18,315.60 85.65,315.66 86.12,315.02 86.59,314.88 87.05,315.32 87.52,315.67 87.99,315.02 88.45,315.81 88.92,315.64 89.39,315.19 89.86,316.23 90.32,315.33 90.79,315.70 91.26,315.48 91.72,315.56 92.19,315.49 92.66,315.34 93.13,315.87 93.59,315.12 94.06,315.39 94.53,315.36 94.99,315.27 95.46,315.42 95.93,315.42 96.40,315.70 96.86,316.25 97.33,315.81 97.80,316.05 98.26,316.29 98.73,315.71 99.20,316.02 99.67,316.19 100.13,316.21 100.60,315.76 101.07,315.73 101.54,315.40 102.00,315.89 102.47,315.52 102.94,315.41 103.40,315.50 103.87,316.75 104.34,315.50 104.81,315.82 105.27,315.80 105.74,315.83 106.21,315.83 106.67,315.86 107.14,316.11 107.61,316.66 108.08,316.04 108.54,316.29 109.01,315.64 109.48,316.13 109.94,316.00 110.41,316.34 110.88,316.23 111.35,316.06 111.81,316.59 112.28,315.97 112.75,316.12 113.21,316.50 113.68,316.94 114.15,315.92 114.62,316.21 115.08,316.30 115.55,316.20 116.02,315.48 116.48,316.15 116.95,316.10 117.42,316.67 117.89,315.56 118.35,315.83 118.82,315.78 119.29,316.14 119.76,315.84 120.22,316.04 120.69,315.95 121.16,316.23 121.62,316.70 122.09,315.82 122.56,316.86 123.03,316.27 123.49,316.26 123.96,316.56 124.43,315.97 124.89,316.26 125.36,316.34 125.83,316.01 126.30,316.07 126.76,313.76 127.23,311.65 127.70,309.23 128.16,305.93 128.63,300.78 129.10,294.19 129.57,288.30 130.03,281.82 130.50,274.59 130.97,269.34 131.43,263.37 131.90,258.44 132.37,254.29 132.84,252.30 133.30,250.54 133.77,249.45 134.24,247.39 134.71,246.23 135.17,245.54 135.64,244.22 136.11,243.69 136.57,242.40 137.04,240.79 137.51,240.30 137.98,238.64 138.44,238.88 138.91,237.56 139.38,237.01 139.84,235.94 140.31,235.33 140.78,234.72 141.25,234.03 141.71,231.86 142.18,232.20 142.65,232.13 143.11,230.92 143.58,229.74 144.05,229.49 144.52,228.19 144.98,227.72 145.45,227.57 145.92,227.17 146.38,226.90 146.85,226.37 147.32,226.23 147.79,224.91 148.25,224.40 148.72,225.06 149.19,224.70 149.65,224.59 150.12,224.00 150.59,224.46 151.06,223.49 151.52,222.36 151.99,222.67 152.46,221.99 152.93,222.21 153.39,221.17 153.86,221.48 154.33,221.45 154.79,220.18 155.26,220.96 155.73,221.06 156.20,220.34 156.66,220.21 157.13,219.62 157.60,220.13 158.06,219.33 158.53,219.13 159.00,219.50 159.47,219.04 159.93,219.24 160.40,217.97" fill="none" stroke="#4796d6" stroke-width="1.05" stroke-linejoin="round" />
<polyline points="39.40,216.45 39.87,216.27 40.33,216.46 40.80,217.08 41.27,216.23 41.74,216.41 42.20,216.79 42.67,216.36 43.14,216.44 43.60,216.47 44.07,216.57 44.54,216.37 45.01,216.86 45.47,216.64 45.94,216.77 46.41,216.35 46.87,216.57 47.34,216.69 47.81,216.88 48.28,216.68 48.74,216.58 49.21,216.69 49.68,216.09 50.15,216.20 50.61,217.62 51.08,217.31 51.55,216.65 52.01,216.74 52.48,216.50 52.95,216.50 53.42,215.88 53.88,217.43 54.35,217.60 54.82,217.22 55.28,218.54 55.75,219.81 56.22,222.01 56.69,224.60 57.15,226.42 57.62,229.27 58.09,232.88 58.55,236.63 59.02,242.57 59.49,248.45 59.96,251.33 60.42,253.78 60.89,255.83 61.36,257.70 61.82,258.71 62.29,259.82 62.76,261.05 63.23,262.30 63.69,262.38 64.16,263.43 64.63,263.41 65.09,264.62 65.56,264.29 66.03,265.05 66.50,265.89 66.96,265.87 67.43,266.04 67.90,266.24 68.37,267.00 68.83,267.32 69.30,267.08 69.77,267.58 70.23,267.53 70.70,267.54 71.17,268.65 71.64,268.07 72.10,267.83 72.57,268.52 73.04,268.82 73.50,268.32 73.97,268.60 74.44,268.44 74.91,269.00 75.37,269.51 75.84,269.05 76.31,269.23 76.77,268.82 77.24,269.08 77.71,269.81 78.18,269.67 78.64,268.89 79.11,268.99 79.58,269.51 80.04,269.28 80.51,269.13 80.98,269.14 81.45,268.99 81.91,269.25 82.38,269.40 82.85,269.47 83.32,268.98 83.78,270.26 84.25,269.46 84.72,269.41 85.18,269.98 85.65,269.31 86.12,269.70 86.59,269.13 87.05,269.51 87.52,269.22 87.99,269.01 88.45,269.34 88.92,269.83 89.39,270.08 89.86,268.83 90.32,269.55 90.79,269.77 91.26,269.45 91.72,269.58 92.19,269.18 92.66,269.50 93.13,269.51 93.59,269.79 94.06,269.33 94.53,269.91 94.99,269.26 95.46,268.93 95.93,270.10 96.40,270.46 96.86,269.28 97.33,268.54 97.80,269.89 98.26,269.99 98.73,269.29 99.20,269.83 99.67,269.71 100.13,269.64 100.60,269.31 101.07,269.67 101.54,269.40 102.00,269.58 102.47,269.83 102.94,269.63 103.40,269.88 103.87,269.51 104.34,269.94 104.81,269.93 105.27,268.95 105.74,269.53 106.21,269.53 106.67,269.32 107.14,269.67 107.61,269.60 108.08,269.35 108.54,269.40 109.01,269.96 109.48,269.19 109.94,269.74 110.41,269.92 110.88,269.86 111.35,269.66 111.81,268.89 112.28,269.96 112.75,269.45 113.21,270.33 113.68,269.51 114.15,269.17 114.62,269.60 115.08,269.75 115.55,269.42 116.02,269.24 116.48,269.26 116.95,268.76 117.42,269.43 117.89,269.74 118.35,269.56 118.82,269.54 119.29,269.47 119.76,269.52 120.22,269.44 120.69,270.15 121.16,269.19 121.62,269.73 122.09,269.96 122.56,269.27 123.03,269.01 123.49,269.32 123.96,269.45 124.43,269.87 124.89,268.41 125.36,269.17 125.83,269.95 126.30,269.57 126.76,267.87 127.23,266.59 127.70,264.11 128.16,262.35 128.63,259.47 129.10,257.15 129.57,256.02 130.03,252.36 130.50,250.38 130.97,246.77 131.43,244.68 131.90,242.25 132.37,240.82 132.84,237.92 133.30,236.18 133.77,235.79 134.24,233.83 134.71,233.05 135.17,231.89 135.64,231.59 136.11,229.70 136.57,230.16 137.04,229.34 137.51,228.53 137.98,228.50 138.44,227.92 138.91,227.64 139.38,227.10 139.84,227.15 140.31,226.54 140.78,226.15 141.25,225.90 141.71,225.47 142.18,225.34 142.65,224.67 143.11,224.83 143.58,224.50 144.05,224.44 144.52,224.12 144.98,224.14 145.45,223.20 145.92,223.57 146.38,223.15 146.85,222.47 147.32,222.19 147.79,222.25 148.25,222.62 148.72,221.44 149.19,221.27 149.65,221.69 150.12,220.63 150.59,220.99 151.06,220.96 151.52,220.30 151.99,220.24 152.46,219.93 152.93,220.48 153.39,219.05 153.86,219.85 154.33,220.08 154.79,219.14 155.26,219.39 155.73,219.02 156.20,219.17 156.66,218.96 157.13,218.75 157.60,219.04 158.06,218.41 158.53,218.78 159.00,218.87 159.47,218.45 159.93,218.26 160.40,218.48" fill="none" stroke="#1a1a1a" stroke-width="1.15" stroke-linejoin="round" />
</g>
<line x1="35.80" y1="216.58" x2="39.40" y2="216.58" stroke="#8a8a8a" stroke-width="1" />
<text x="31.20" y="219.38" font-size="7.9" text-anchor="end" fill="#333" >0</text>
<line x1="35.80" y1="266.99" x2="39.40" y2="266.99" stroke="#8a8a8a" stroke-width="1" />
<text x="31.20" y="269.79" font-size="7.9" text-anchor="end" fill="#333" >−500</text>
<line x1="35.80" y1="317.40" x2="39.40" y2="317.40" stroke="#8a8a8a" stroke-width="1" />
<text x="31.20" y="320.20" font-size="7.9" text-anchor="end" fill="#333" >−1,000</text>
<line x1="53.92" y1="317.40" x2="53.92" y2="321.00" stroke="#8a8a8a" stroke-width="1" />
<text x="53.92" y="331.60" font-size="7.9" text-anchor="middle" fill="#333" >0.5</text>
<line x1="78.12" y1="317.40" x2="78.12" y2="321.00" stroke="#8a8a8a" stroke-width="1" />
<text x="78.12" y="331.60" font-size="7.9" text-anchor="middle" fill="#333" >1.0</text>
<line x1="102.32" y1="317.40" x2="102.32" y2="321.00" stroke="#8a8a8a" stroke-width="1" />
<text x="102.32" y="331.60" font-size="7.9" text-anchor="middle" fill="#333" >1.5</text>
<line x1="126.52" y1="317.40" x2="126.52" y2="321.00" stroke="#8a8a8a" stroke-width="1" />
<text x="126.52" y="331.60" font-size="7.9" text-anchor="middle" fill="#333" >2.0</text>
<line x1="150.72" y1="317.40" x2="150.72" y2="321.00" stroke="#8a8a8a" stroke-width="1" />
<text x="150.72" y="331.60" font-size="7.9" text-anchor="middle" fill="#333" >2.5</text>
<text x="99.90" y="344.50" font-size="8.8" text-anchor="middle" fill="#333" textLength="36.5" lengthAdjust="spacingAndGlyphs" >Time (μs)</text>
<text x="100.90" y="200.20" font-size="8.6" text-anchor="middle" textLength="36.6" lengthAdjust="spacingAndGlyphs" >U pattern</text>
<text x="6.80" y="262.00" font-size="8.6" text-anchor="middle" fill="#333" textLength="49.2" lengthAdjust="spacingAndGlyphs" transform="rotate(-90 6.80 262.00)" >Current (μA)</text>
</g>
<g>
<line x1="213.50" y1="206.30" x2="333.60" y2="206.30" stroke="#7a7a7a" stroke-width="0.9" />
<line x1="333.60" y1="206.30" x2="333.60" y2="317.10" stroke="#7a7a7a" stroke-width="0.9" />
<line x1="213.50" y1="206.30" x2="213.50" y2="317.10" stroke="#777777" stroke-width="1.2" />
<line x1="212.90" y1="317.10" x2="333.60" y2="317.10" stroke="#8a8a8a" stroke-width="1.2" />
<clipPath id="cp1"><rect x="213.5" y="206.3" width="120.10000000000002" height="110.80000000000001"/></clipPath>
<g clip-path="url(#cp1)">
<polyline points="213.50,216.03 213.96,215.90 214.43,215.92 214.89,215.58 215.35,215.75 215.82,215.62 216.28,215.39 216.75,215.38 217.21,215.51 217.67,215.81 218.14,215.91 218.60,215.93 219.06,215.78 219.53,215.68 219.99,215.98 220.46,216.04 220.92,215.57 221.38,216.27 221.85,215.72 222.31,215.53 222.77,215.99 223.24,216.03 223.70,215.92 224.17,215.45 224.63,215.71 225.09,216.28 225.56,215.80 226.02,215.33 226.48,215.34 226.95,215.46 227.41,215.74 227.87,216.27 228.34,215.80 228.80,216.47 229.27,217.21 229.73,217.73 230.19,219.54 230.66,221.74 231.12,224.56 231.58,228.24 232.05,232.05 232.51,235.83 232.98,239.15 233.44,243.75 233.90,249.00 234.37,253.37 234.83,258.18 235.29,262.39 235.76,265.10 236.22,268.45 236.69,271.69 237.15,273.63 237.61,276.14 238.08,278.17 238.54,279.65 239.00,282.09 239.47,282.99 239.93,283.74 240.39,284.41 240.86,285.47 241.32,286.19 241.79,286.72 242.25,286.88 242.71,287.02 243.18,288.05 243.64,288.51 244.10,288.10 244.57,288.30 245.03,288.62 245.50,288.26 245.96,288.32 246.42,288.87 246.89,288.90 247.35,288.68 247.81,289.07 248.28,289.44 248.74,289.04 249.21,289.34 249.67,288.97 250.13,289.27 250.60,289.20 251.06,288.99 251.52,289.23 251.99,289.42 252.45,289.57 252.92,288.70 253.38,288.92 253.84,289.79 254.31,289.67 254.77,289.15 255.23,289.55 255.70,289.37 256.16,289.12 256.62,289.36 257.09,289.46 257.55,289.58 258.02,289.46 258.48,289.32 258.94,288.88 259.41,289.11 259.87,289.53 260.33,289.17 260.80,289.43 261.26,289.96 261.73,289.51 262.19,289.14 262.65,289.67 263.12,289.16 263.58,289.57 264.04,289.46 264.51,289.86 264.97,288.79 265.44,289.32 265.90,289.14 266.36,289.62 266.83,289.95 267.29,289.07 267.75,289.70 268.22,288.93 268.68,289.53 269.14,288.94 269.61,289.71 270.07,290.05 270.54,289.24 271.00,289.49 271.46,289.47 271.93,289.13 272.39,289.76 272.85,289.89 273.32,289.85 273.78,290.02 274.25,290.06 274.71,289.89 275.17,289.79 275.64,289.62 276.10,289.87 276.56,289.52 277.03,289.23 277.49,289.55 277.96,289.35 278.42,289.78 278.88,289.39 279.35,289.34 279.81,289.71 280.27,290.00 280.74,289.56 281.20,289.51 281.66,289.04 282.13,289.65 282.59,288.98 283.06,290.30 283.52,289.62 283.98,289.69 284.45,289.65 284.91,289.70 285.37,289.55 285.84,289.00 286.30,289.58 286.77,289.15 287.23,289.56 287.69,289.50 288.16,290.30 288.62,289.51 289.08,289.34 289.55,289.90 290.01,289.73 290.48,289.81 290.94,288.85 291.40,289.85 291.87,289.77 292.33,290.42 292.79,290.05 293.26,289.47 293.72,289.95 294.18,290.43 294.65,289.63 295.11,289.51 295.58,289.45 296.04,289.42 296.50,289.74 296.97,288.63 297.43,289.72 297.89,289.40 298.36,289.95 298.82,289.74 299.29,290.03 299.75,289.47 300.21,289.67 300.68,289.86 301.14,290.19 301.60,289.36 302.07,289.28 302.53,289.27 303.00,289.57 303.46,289.31 303.92,289.24 304.39,289.37 304.85,289.07 305.31,289.59 305.78,289.46 306.24,290.02 306.71,288.85 307.17,289.77 307.63,289.42 308.10,289.32 308.56,289.79 309.02,289.53 309.49,289.30 309.95,289.55 310.41,289.61 310.88,289.62 311.34,289.74 311.81,289.57 312.27,289.39 312.73,289.36 313.20,289.16 313.66,289.49 314.12,289.68 314.59,289.24 315.05,289.39 315.52,289.18 315.98,289.44 316.44,289.33 316.91,289.38 317.37,289.27 317.83,289.82 318.30,289.54 318.76,289.44 319.23,288.95 319.69,289.52 320.15,289.35 320.62,289.56 321.08,290.17 321.54,289.10 322.01,289.28 322.47,289.10 322.93,289.94 323.40,289.41 323.86,289.44 324.33,289.66 324.79,287.61 325.25,286.00 325.72,283.28 326.18,280.30 326.64,275.58 327.11,270.92 327.57,267.10 328.04,263.57 328.50,260.62 328.96,258.75 329.43,256.43 329.89,254.18 330.35,252.58 330.82,251.00 331.28,249.67 331.75,247.17 332.21,245.69 332.67,244.11 333.14,242.19 333.60,240.81" fill="none" stroke="#4796d6" stroke-width="1.05" stroke-linejoin="round" />
<polyline points="213.50,215.66 213.96,215.47 214.43,215.49 214.89,215.74 215.35,215.71 215.82,215.74 216.28,215.59 216.75,215.67 217.21,215.56 217.67,215.93 218.14,215.45 218.60,215.68 219.06,215.57 219.53,215.69 219.99,215.72 220.46,215.60 220.92,215.55 221.38,215.69 221.85,215.69 222.31,215.57 222.77,215.79 223.24,215.88 223.70,215.61 224.17,215.76 224.63,215.94 225.09,215.78 225.56,215.73 226.02,215.83 226.48,215.88 226.95,215.66 227.41,215.54 227.87,215.70 228.34,215.97 228.80,216.39 229.27,217.18 229.73,218.30 230.19,219.36 230.66,221.02 231.12,223.33 231.58,225.80 232.05,228.12 232.51,230.55 232.98,232.72 233.44,235.49 233.90,237.91 234.37,240.38 234.83,242.76 235.29,244.46 235.76,246.21 236.22,248.06 236.69,249.24 237.15,250.58 237.61,251.75 238.08,252.84 238.54,253.69 239.00,254.75 239.47,254.99 239.93,255.41 240.39,256.11 240.86,256.14 241.32,256.49 241.79,256.57 242.25,256.91 242.71,257.00 243.18,257.08 243.64,257.37 244.10,257.28 244.57,257.48 245.03,257.48 245.50,257.71 245.96,257.55 246.42,257.67 246.89,257.82 247.35,257.74 247.81,257.68 248.28,257.63 248.74,258.13 249.21,257.81 249.67,257.90 250.13,258.00 250.60,258.15 251.06,257.85 251.52,258.23 251.99,257.99 252.45,257.91 252.92,258.33 253.38,258.17 253.84,258.33 254.31,258.13 254.77,257.96 255.23,257.90 255.70,258.45 256.16,258.29 256.62,258.13 257.09,258.01 257.55,258.18 258.02,258.36 258.48,258.22 258.94,258.27 259.41,258.30 259.87,258.38 260.33,258.22 260.80,258.24 261.26,258.29 261.73,258.31 262.19,258.46 262.65,258.35 263.12,258.11 263.58,258.31 264.04,258.48 264.51,258.09 264.97,258.21 265.44,257.99 265.90,258.27 266.36,258.35 266.83,258.48 267.29,258.10 267.75,257.92 268.22,258.40 268.68,258.37 269.14,258.20 269.61,258.40 270.07,258.32 270.54,258.33 271.00,258.25 271.46,258.13 271.93,258.28 272.39,258.15 272.85,258.34 273.32,258.24 273.78,258.58 274.25,258.49 274.71,258.17 275.17,258.36 275.64,258.20 276.10,258.21 276.56,258.10 277.03,258.17 277.49,258.14 277.96,258.30 278.42,258.38 278.88,258.38 279.35,258.35 279.81,258.44 280.27,258.36 280.74,258.29 281.20,258.25 281.66,258.33 282.13,258.55 282.59,258.29 283.06,258.25 283.52,258.13 283.98,258.20 284.45,258.37 284.91,258.38 285.37,258.00 285.84,258.18 286.30,258.02 286.77,257.98 287.23,258.40 287.69,258.23 288.16,258.22 288.62,258.20 289.08,258.21 289.55,258.25 290.01,258.26 290.48,258.49 290.94,258.30 291.40,258.39 291.87,258.26 292.33,258.35 292.79,258.19 293.26,258.17 293.72,258.24 294.18,258.24 294.65,258.27 295.11,258.34 295.58,258.30 296.04,258.35 296.50,258.23 296.97,258.28 297.43,258.20 297.89,258.47 298.36,258.16 298.82,258.39 299.29,258.38 299.75,258.31 300.21,258.36 300.68,258.24 301.14,258.36 301.60,258.43 302.07,258.40 302.53,258.10 303.00,258.28 303.46,258.45 303.92,258.28 304.39,258.50 304.85,258.03 305.31,258.50 305.78,258.21 306.24,258.21 306.71,258.49 307.17,258.24 307.63,258.14 308.10,258.22 308.56,258.24 309.02,258.15 309.49,258.26 309.95,258.23 310.41,258.30 310.88,258.19 311.34,258.41 311.81,258.17 312.27,258.35 312.73,258.43 313.20,258.23 313.66,258.04 314.12,258.15 314.59,258.35 315.05,258.18 315.52,258.35 315.98,258.30 316.44,258.27 316.91,258.61 317.37,258.25 317.83,258.43 318.30,258.38 318.76,258.49 319.23,258.49 319.69,258.41 320.15,258.17 320.62,258.05 321.08,258.28 321.54,258.13 322.01,258.32 322.47,258.55 322.93,258.26 323.40,258.22 323.86,258.34 324.33,257.95 324.79,256.83 325.25,255.64 325.72,254.40 326.18,252.71 326.64,251.04 327.11,249.29 327.57,247.28 328.04,245.37 328.50,243.93 328.96,242.15 329.43,240.49 329.89,238.88 330.35,237.23 330.82,235.92 331.28,234.39 331.75,233.02 332.21,232.13 332.67,231.38 333.14,230.36 333.60,229.54" fill="none" stroke="#1a1a1a" stroke-width="1.15" stroke-linejoin="round" />
</g>
<line x1="209.90" y1="215.67" x2="213.50" y2="215.67" stroke="#8a8a8a" stroke-width="1" />
<text x="206.60" y="218.47" font-size="7.9" text-anchor="end" fill="#333" >0</text>
<line x1="209.90" y1="262.50" x2="213.50" y2="262.50" stroke="#8a8a8a" stroke-width="1" />
<text x="206.60" y="265.30" font-size="7.9" text-anchor="end" fill="#333" >−500</text>
<line x1="209.90" y1="309.33" x2="213.50" y2="309.33" stroke="#8a8a8a" stroke-width="1" />
<text x="206.60" y="312.13" font-size="7.9" text-anchor="end" fill="#333" >−1,000</text>
<line x1="227.91" y1="317.10" x2="227.91" y2="320.70" stroke="#8a8a8a" stroke-width="1" />
<text x="227.91" y="331.60" font-size="7.9" text-anchor="middle" fill="#333" >0.5</text>
<line x1="251.93" y1="317.10" x2="251.93" y2="320.70" stroke="#8a8a8a" stroke-width="1" />
<text x="251.93" y="331.60" font-size="7.9" text-anchor="middle" fill="#333" >1.0</text>
<line x1="275.95" y1="317.10" x2="275.95" y2="320.70" stroke="#8a8a8a" stroke-width="1" />
<text x="275.95" y="331.60" font-size="7.9" text-anchor="middle" fill="#333" >1.5</text>
<line x1="299.97" y1="317.10" x2="299.97" y2="320.70" stroke="#8a8a8a" stroke-width="1" />
<text x="299.97" y="331.60" font-size="7.9" text-anchor="middle" fill="#333" >2.0</text>
<line x1="323.99" y1="317.10" x2="323.99" y2="320.70" stroke="#8a8a8a" stroke-width="1" />
<text x="323.99" y="331.60" font-size="7.9" text-anchor="middle" fill="#333" >2.5</text>
<text x="273.55" y="344.50" font-size="8.8" text-anchor="middle" fill="#333" textLength="36.5" lengthAdjust="spacingAndGlyphs" >Time (μs)</text>
<text x="277.30" y="200.20" font-size="8.6" text-anchor="middle" textLength="36.6" lengthAdjust="spacingAndGlyphs" >C pattern</text>
<text x="181.80" y="262.00" font-size="8.6" text-anchor="middle" fill="#333" textLength="49.2" lengthAdjust="spacingAndGlyphs" transform="rotate(-90 181.80 262.00)" >Current (μA)</text>
</g>
<g>
<line x1="386.40" y1="206.30" x2="507.90" y2="206.30" stroke="#7a7a7a" stroke-width="0.9" />
<line x1="507.90" y1="206.30" x2="507.90" y2="317.20" stroke="#7a7a7a" stroke-width="0.9" />
<line x1="386.40" y1="206.30" x2="386.40" y2="317.20" stroke="#9a9a9a" stroke-width="1.2" />
<line x1="385.80" y1="317.20" x2="507.90" y2="317.20" stroke="#9a9a9a" stroke-width="1.2" />
<clipPath id="cp2"><rect x="386.4" y="206.3" width="121.5" height="110.89999999999998"/></clipPath>
<g clip-path="url(#cp2)">
<polyline points="386.40,256.64 386.87,256.17 387.34,256.03 387.81,256.20 388.28,256.08 388.75,256.20 389.21,256.21 389.68,256.11 390.15,256.03 390.62,255.47 391.09,255.61 391.56,255.47 392.03,255.56 392.50,255.56 392.97,255.49 393.44,255.29 393.91,254.82 394.37,254.83 394.84,254.80 395.31,254.61 395.78,254.76 396.25,253.99 396.72,254.46 397.19,254.04 397.66,253.44 398.13,254.48 398.60,254.15 399.07,253.94 399.54,253.73 400.00,254.18 400.47,253.86 400.94,253.85 401.41,253.87 401.88,254.55 402.35,253.90 402.82,253.76 403.29,254.12 403.76,254.49 404.23,254.54 404.70,255.11 405.16,254.43 405.63,254.23 406.10,254.48 406.57,255.37 407.04,254.76 407.51,254.66 407.98,254.71 408.45,254.30 408.92,254.91 409.39,254.61 409.86,254.24 410.32,254.09 410.79,254.25 411.26,254.01 411.73,254.13 412.20,254.53 412.67,254.00 413.14,254.50 413.61,254.85 414.08,254.46 414.55,254.24 415.02,254.57 415.48,254.70 415.95,255.03 416.42,255.82 416.89,255.21 417.36,255.48 417.83,256.30 418.30,255.98 418.77,256.21 419.24,255.95 419.71,256.38 420.18,256.56 420.65,256.80 421.11,257.41 421.58,257.78 422.05,257.51 422.52,257.79 422.99,257.91 423.46,258.14 423.93,258.43 424.40,258.39 424.87,258.68 425.34,259.06 425.81,259.52 426.27,259.80 426.74,259.59 427.21,259.28 427.68,258.92 428.15,259.06 428.62,258.55 429.09,258.15 429.56,257.56 430.03,257.76 430.50,257.19 430.97,257.26 431.43,257.42 431.90,257.49 432.37,256.69 432.84,256.38 433.31,255.83 433.78,256.42 434.25,255.99 434.72,256.00 435.19,256.41 435.66,255.63 436.13,255.70 436.59,255.84 437.06,255.06 437.53,255.55 438.00,255.22 438.47,255.34 438.94,255.38 439.41,255.17 439.88,254.86 440.35,255.13 440.82,255.26 441.29,254.32 441.76,254.53 442.22,254.75 442.69,254.43 443.16,254.66 443.63,254.17 444.10,253.83 444.57,254.38 445.04,253.59 445.51,253.48 445.98,253.60 446.45,253.36 446.92,253.32 447.38,253.21 447.85,253.43 448.32,252.51 448.79,253.02 449.26,253.00 449.73,253.72 450.20,254.49 450.67,255.54 451.14,256.95 451.61,257.43 452.08,257.98 452.54,257.79 453.01,256.00 453.48,254.09 453.95,252.49 454.42,250.72 454.89,250.30 455.36,248.97 455.83,247.35 456.30,244.24 456.77,245.02 457.24,243.73 457.71,240.51 458.17,240.37 458.64,236.97 459.11,238.11 459.58,236.32 460.05,235.39 460.52,235.86 460.99,231.77 461.46,230.28 461.93,228.97 462.40,229.29 462.87,227.53 463.33,227.74 463.80,227.09 464.27,227.32 464.74,226.10 465.21,226.49 465.68,224.34 466.15,225.33 466.62,225.35 467.09,223.97 467.56,223.59 468.03,225.09 468.49,224.15 468.96,223.39 469.43,222.10 469.90,221.73 470.37,221.22 470.84,222.17 471.31,222.60 471.78,223.09 472.25,221.24 472.72,221.67 473.19,220.65 473.65,219.94 474.12,218.81 474.59,221.98 475.06,220.53 475.53,223.22 476.00,220.60 476.47,223.49 476.94,222.75 477.41,224.26 477.88,221.78 478.35,223.29 478.82,223.24 479.28,224.61 479.75,224.16 480.22,225.71 480.69,224.63 481.16,221.94 481.63,224.65 482.10,221.60 482.57,219.39 483.04,218.63 483.51,218.30 483.98,218.46 484.44,216.72 484.91,218.52 485.38,218.28 485.85,220.15 486.32,218.04 486.79,218.82 487.26,218.58 487.73,221.18 488.20,220.10 488.67,219.07 489.14,220.34 489.60,218.38 490.07,216.87 490.54,219.23 491.01,218.72 491.48,219.67 491.95,219.65 492.42,220.67 492.89,218.41 493.36,220.37 493.83,219.38 494.30,219.35 494.76,219.94 495.23,219.28 495.70,218.55 496.17,217.16 496.64,218.21 497.11,216.65 497.58,217.56 498.05,217.64 498.52,217.14 498.99,217.88 499.46,216.49 499.93,217.30 500.39,217.36 500.86,215.82 501.33,219.20 501.80,220.01 502.27,219.81 502.74,220.26 503.21,221.40 503.68,222.02 504.15,223.22 504.62,224.53 505.09,226.30 505.55,227.20 506.02,228.95 506.49,230.44 506.96,231.05 507.43,232.04 507.90,232.64" fill="none" stroke="#4796d6" stroke-width="1.05" stroke-linejoin="round" />
<polyline points="386.40,234.97 386.87,234.64 387.34,235.64 387.81,234.61 388.28,235.15 388.75,235.39 389.21,235.40 389.68,235.50 390.15,235.26 390.62,234.95 391.09,235.04 391.56,235.04 392.03,235.76 392.50,235.73 392.97,234.81 393.44,235.00 393.91,234.65 394.37,234.96 394.84,235.64 395.31,234.96 395.78,235.18 396.25,235.31 396.72,235.64 397.19,235.41 397.66,235.47 398.13,235.17 398.60,235.41 399.07,234.99 399.54,235.71 400.00,235.35 400.47,235.36 400.94,235.78 401.41,235.89 401.88,235.25 402.35,235.41 402.82,235.63 403.29,235.48 403.76,235.81 404.23,235.55 404.70,235.82 405.16,235.60 405.63,235.37 406.10,235.78 406.57,235.44 407.04,236.02 407.51,235.82 407.98,236.15 408.45,235.79 408.92,235.76 409.39,235.86 409.86,235.90 410.32,235.43 410.79,235.43 411.26,236.24 411.73,235.54 412.20,236.43 412.67,236.15 413.14,236.00 413.61,235.94 414.08,236.30 414.55,236.22 415.02,236.00 415.48,236.25 415.95,236.26 416.42,235.88 416.89,235.82 417.36,236.13 417.83,236.13 418.30,236.15 418.77,236.30 419.24,236.33 419.71,236.50 420.18,236.01 420.65,236.24 421.11,236.27 421.58,236.17 422.05,236.08 422.52,235.82 422.99,236.34 423.46,236.38 423.93,236.21 424.40,236.52 424.87,235.89 425.34,236.00 425.81,236.06 426.27,236.30 426.74,236.03 427.21,235.93 427.68,236.08 428.15,236.30 428.62,236.70 429.09,235.89 429.56,236.25 430.03,236.38 430.50,235.83 430.97,235.97 431.43,236.47 431.90,236.04 432.37,236.07 432.84,235.66 433.31,236.50 433.78,236.01 434.25,235.91 434.72,235.42 435.19,236.14 435.66,236.68 436.13,236.19 436.59,235.67 437.06,235.49 437.53,235.19 438.00,235.58 438.47,235.93 438.94,235.42 439.41,235.68 439.88,235.73 440.35,235.67 440.82,235.29 441.29,235.94 441.76,235.98 442.22,235.69 442.69,235.69 443.16,235.92 443.63,235.94 444.10,235.56 444.57,235.27 445.04,235.46 445.51,235.47 445.98,235.30 446.45,236.27 446.92,236.13 447.38,235.88 447.85,236.03 448.32,235.97 448.79,235.65 449.26,236.06 449.73,235.81 450.20,236.29 450.67,235.97 451.14,235.24 451.61,234.84 452.08,232.55 452.54,229.67 453.01,226.88 453.48,223.36 453.95,220.56 454.42,218.15 454.89,216.65 455.36,214.92 455.83,213.01 456.30,211.53 456.77,210.56 457.24,210.84 457.71,211.20 458.17,211.53 458.64,211.51 459.11,212.24 459.58,211.63 460.05,212.39 460.52,212.08 460.99,211.50 461.46,211.43 461.93,211.66 462.40,211.25 462.87,211.25 463.33,210.63 463.80,210.60 464.27,210.89 464.74,210.50 465.21,210.67 465.68,210.53 466.15,210.44 466.62,210.58 467.09,210.23 467.56,210.18 468.03,210.15 468.49,209.91 468.96,210.28 469.43,210.61 469.90,210.28 470.37,210.04 470.84,210.07 471.31,209.87 471.78,209.77 472.25,210.02 472.72,210.00 473.19,210.23 473.65,209.60 474.12,209.96 474.59,210.18 475.06,210.17 475.53,209.93 476.00,209.32 476.47,209.53 476.94,210.24 477.41,209.75 477.88,209.61 478.35,209.48 478.82,209.54 479.28,209.81 479.75,209.48 480.22,209.74 480.69,210.23 481.16,209.75 481.63,209.72 482.10,209.21 482.57,209.16 483.04,209.78 483.51,209.39 483.98,209.40 484.44,209.84 484.91,210.01 485.38,209.41 485.85,209.33 486.32,209.53 486.79,210.15 487.26,209.34 487.73,209.49 488.20,209.57 488.67,209.39 489.14,209.62 489.60,209.10 490.07,209.26 490.54,209.42 491.01,209.15 491.48,209.24 491.95,209.67 492.42,209.25 492.89,209.33 493.36,209.71 493.83,209.37 494.30,209.04 494.76,209.34 495.23,208.73 495.70,208.63 496.17,209.23 496.64,208.96 497.11,208.52 497.58,209.21 498.05,209.38 498.52,209.23 498.99,209.51 499.46,209.50 499.93,209.04 500.39,209.22 500.86,209.04 501.33,209.06 501.80,209.63 502.27,209.73 502.74,210.11 503.21,210.80 503.68,213.00 504.15,216.00 504.62,219.80 505.09,222.82 505.55,225.83 506.02,228.83 506.49,231.34 506.96,232.38 507.43,233.03 507.90,233.24" fill="none" stroke="#1a1a1a" stroke-width="1.15" stroke-linejoin="round" />
</g>
<line x1="382.80" y1="206.30" x2="386.40" y2="206.30" stroke="#8a8a8a" stroke-width="1" />
<text x="379.50" y="209.10" font-size="7.9" text-anchor="end" fill="#333" >0</text>
<line x1="382.80" y1="246.26" x2="386.40" y2="246.26" stroke="#8a8a8a" stroke-width="1" />
<text x="379.50" y="249.06" font-size="7.9" text-anchor="end" fill="#333" >−200</text>
<line x1="382.80" y1="286.23" x2="386.40" y2="286.23" stroke="#8a8a8a" stroke-width="1" />
<text x="379.50" y="289.03" font-size="7.9" text-anchor="end" fill="#333" >−400</text>
<line x1="400.98" y1="317.20" x2="400.98" y2="320.80" stroke="#8a8a8a" stroke-width="1" />
<text x="400.98" y="331.60" font-size="7.9" text-anchor="middle" fill="#333" >0.5</text>
<line x1="425.28" y1="317.20" x2="425.28" y2="320.80" stroke="#8a8a8a" stroke-width="1" />
<text x="425.28" y="331.60" font-size="7.9" text-anchor="middle" fill="#333" >1.0</text>
<line x1="449.58" y1="317.20" x2="449.58" y2="320.80" stroke="#8a8a8a" stroke-width="1" />
<text x="449.58" y="331.60" font-size="7.9" text-anchor="middle" fill="#333" >1.5</text>
<line x1="473.88" y1="317.20" x2="473.88" y2="320.80" stroke="#8a8a8a" stroke-width="1" />
<text x="473.88" y="331.60" font-size="7.9" text-anchor="middle" fill="#333" >2.0</text>
<line x1="498.18" y1="317.20" x2="498.18" y2="320.80" stroke="#8a8a8a" stroke-width="1" />
<text x="498.18" y="331.60" font-size="7.9" text-anchor="middle" fill="#333" >2.5</text>
<text x="447.15" y="344.50" font-size="8.8" text-anchor="middle" fill="#333" textLength="36.5" lengthAdjust="spacingAndGlyphs" >Time (μs)</text>
<text x="447.20" y="200.20" font-size="8.6" text-anchor="middle" textLength="36.6" lengthAdjust="spacingAndGlyphs" >S pattern</text>
<text x="355.90" y="262.00" font-size="8.6" text-anchor="middle" fill="#333" textLength="49.2" lengthAdjust="spacingAndGlyphs" transform="rotate(-90 355.90 262.00)" >Current (μA)</text>
</g>
<g>
<line x1="563.30" y1="206.50" x2="684.40" y2="206.50" stroke="#7a7a7a" stroke-width="0.9" />
<line x1="684.40" y1="206.50" x2="684.40" y2="317.20" stroke="#7a7a7a" stroke-width="0.9" />
<line x1="563.30" y1="206.50" x2="563.30" y2="317.20" stroke="#7a7a7a" stroke-width="1.2" />
<line x1="562.70" y1="317.20" x2="684.40" y2="317.20" stroke="#aaaaaa" stroke-width="1.2" />
<clipPath id="cp3"><rect x="563.3" y="206.5" width="121.10000000000002" height="110.69999999999999"/></clipPath>
<g clip-path="url(#cp3)">
<polyline points="563.30,216.65 563.77,216.94 564.24,217.54 564.70,217.27 565.17,217.30 565.64,216.37 566.11,217.53 566.57,216.72 567.04,217.16 567.51,216.84 567.98,217.20 568.44,217.06 568.91,217.03 569.38,217.16 569.85,216.97 570.31,217.08 570.78,216.77 571.25,216.57 571.72,217.23 572.18,217.27 572.65,217.06 573.12,217.78 573.59,217.09 574.05,217.38 574.52,217.49 574.99,217.75 575.46,217.28 575.92,217.02 576.39,217.38 576.86,217.52 577.33,217.40 577.79,217.25 578.26,217.80 578.73,218.17 579.20,219.24 579.66,219.99 580.13,220.86 580.60,224.01 581.07,226.86 581.54,231.94 582.00,236.68 582.47,241.18 582.94,246.27 583.41,253.17 583.87,260.88 584.34,268.22 584.81,272.90 585.28,276.60 585.74,279.16 586.21,281.65 586.68,283.75 587.15,285.52 587.61,287.42 588.08,288.37 588.55,289.58 589.02,291.00 589.48,290.81 589.95,292.44 590.42,293.67 590.89,294.43 591.35,294.75 591.82,295.71 592.29,295.20 592.76,296.05 593.22,295.87 593.69,296.79 594.16,296.53 594.63,296.50 595.09,296.93 595.56,297.98 596.03,297.56 596.50,297.89 596.96,297.51 597.43,297.90 597.90,297.47 598.37,298.12 598.84,298.60 599.30,298.57 599.77,297.87 600.24,298.66 600.71,298.29 601.17,297.63 601.64,298.40 602.11,298.74 602.58,298.15 603.04,298.34 603.51,298.92 603.98,298.25 604.45,298.47 604.91,298.31 605.38,298.80 605.85,298.19 606.32,298.78 606.78,298.18 607.25,299.02 607.72,298.54 608.19,298.53 608.65,299.11 609.12,299.34 609.59,298.92 610.06,298.96 610.52,298.91 610.99,298.74 611.46,297.91 611.93,298.62 612.39,298.12 612.86,298.56 613.33,298.30 613.80,298.48 614.26,298.66 614.73,298.51 615.20,297.92 615.67,299.26 616.14,298.59 616.60,298.46 617.07,299.11 617.54,298.49 618.01,298.62 618.47,298.25 618.94,298.47 619.41,298.69 619.88,298.59 620.34,299.44 620.81,297.98 621.28,298.60 621.75,299.18 622.21,299.04 622.68,298.77 623.15,298.90 623.62,298.64 624.08,298.94 624.55,298.52 625.02,298.87 625.49,298.73 625.95,299.19 626.42,298.97 626.89,298.76 627.36,299.04 627.82,298.80 628.29,298.83 628.76,299.27 629.23,298.34 629.69,299.20 630.16,298.13 630.63,298.37 631.10,298.53 631.56,298.74 632.03,299.02 632.50,298.15 632.97,298.01 633.44,298.96 633.90,298.08 634.37,298.31 634.84,298.40 635.31,298.52 635.77,298.80 636.24,298.73 636.71,298.62 637.18,298.23 637.64,299.15 638.11,298.62 638.58,299.08 639.05,298.67 639.51,298.79 639.98,298.96 640.45,298.49 640.92,298.46 641.38,299.14 641.85,298.96 642.32,298.53 642.79,298.88 643.25,298.60 643.72,299.67 644.19,298.84 644.66,298.82 645.12,298.61 645.59,297.93 646.06,298.79 646.53,298.76 646.99,298.20 647.46,298.75 647.93,298.13 648.40,298.44 648.86,299.32 649.33,298.64 649.80,298.15 650.27,298.62 650.74,298.60 651.20,298.64 651.67,298.55 652.14,297.32 652.61,296.22 653.07,294.53 653.54,290.77 654.01,288.26 654.48,283.80 654.94,279.68 655.41,276.26 655.88,273.38 656.35,268.52 656.81,266.21 657.28,262.81 657.75,259.96 658.22,257.51 658.68,253.63 659.15,251.89 659.62,249.24 660.09,246.84 660.55,244.41 661.02,241.94 661.49,240.63 661.96,240.32 662.42,238.17 662.89,237.25 663.36,235.73 663.83,235.22 664.29,234.13 664.76,233.52 665.23,233.09 665.70,231.99 666.16,231.74 666.63,231.46 667.10,231.03 667.57,230.34 668.04,230.45 668.50,229.15 668.97,228.71 669.44,228.89 669.91,228.97 670.37,228.27 670.84,227.28 671.31,227.41 671.78,227.07 672.24,226.78 672.71,226.65 673.18,226.50 673.65,226.02 674.11,225.84 674.58,226.13 675.05,225.95 675.52,225.57 675.98,225.26 676.45,225.02 676.92,225.10 677.39,224.97 677.85,225.17 678.32,224.20 678.79,224.47 679.26,224.07 679.72,224.31 680.19,224.45 680.66,224.15 681.13,224.05 681.59,223.56 682.06,223.76 682.53,223.15 683.00,223.26 683.46,222.49 683.93,223.88 684.40,222.74" fill="none" stroke="#4796d6" stroke-width="1.05" stroke-linejoin="round" />
<polyline points="563.30,217.26 563.77,217.16 564.24,217.11 564.70,217.35 565.17,217.08 565.64,217.16 566.11,217.08 566.57,217.16 567.04,217.03 567.51,217.34 567.98,216.93 568.44,217.02 568.91,217.29 569.38,217.10 569.85,217.13 570.31,217.46 570.78,217.11 571.25,217.29 571.72,217.24 572.18,217.29 572.65,217.26 573.12,217.19 573.59,217.19 574.05,217.43 574.52,217.24 574.99,217.40 575.46,217.39 575.92,217.25 576.39,217.07 576.86,217.11 577.33,217.29 577.79,217.31 578.26,217.53 578.73,217.99 579.20,218.77 579.66,219.95 580.13,221.21 580.60,223.36 581.07,225.81 581.54,229.30 582.00,232.38 582.47,235.03 582.94,237.64 583.41,240.78 583.87,243.78 584.34,247.12 584.81,250.05 585.28,252.51 585.74,254.29 586.21,255.74 586.68,257.23 587.15,258.25 587.61,259.41 588.08,260.20 588.55,261.11 589.02,261.53 589.48,262.05 589.95,262.29 590.42,262.68 590.89,262.96 591.35,263.04 591.82,263.29 592.29,263.38 592.76,263.56 593.22,263.52 593.69,263.84 594.16,263.70 594.63,263.71 595.09,264.02 595.56,263.79 596.03,263.80 596.50,264.09 596.96,264.39 597.43,264.45 597.90,264.25 598.37,263.98 598.84,264.18 599.30,264.17 599.77,264.34 600.24,264.43 600.71,264.27 601.17,264.51 601.64,264.39 602.11,264.29 602.58,264.38 603.04,264.32 603.51,264.47 603.98,264.33 604.45,264.37 604.91,264.68 605.38,264.60 605.85,264.56 606.32,264.36 606.78,264.42 607.25,264.43 607.72,264.45 608.19,264.39 608.65,264.35 609.12,264.57 609.59,264.73 610.06,264.40 610.52,264.53 610.99,264.49 611.46,264.53 611.93,264.67 612.39,264.73 612.86,264.36 613.33,264.34 613.80,264.36 614.26,264.47 614.73,264.46 615.20,264.56 615.67,264.49 616.14,264.56 616.60,264.58 617.07,264.47 617.54,264.25 618.01,264.78 618.47,264.41 618.94,264.40 619.41,264.68 619.88,264.45 620.34,264.48 620.81,264.57 621.28,264.57 621.75,264.71 622.21,264.24 622.68,264.15 623.15,264.26 623.62,264.54 624.08,264.46 624.55,264.44 625.02,264.62 625.49,264.54 625.95,264.42 626.42,264.56 626.89,264.76 627.36,264.69 627.82,264.46 628.29,264.55 628.76,264.54 629.23,264.30 629.69,264.49 630.16,264.61 630.63,264.51 631.10,264.18 631.56,264.67 632.03,264.23 632.50,264.28 632.97,264.52 633.44,264.55 633.90,264.29 634.37,264.46 634.84,264.58 635.31,264.23 635.77,264.47 636.24,264.45 636.71,264.49 637.18,264.55 637.64,264.48 638.11,264.56 638.58,264.42 639.05,264.34 639.51,264.34 639.98,264.32 640.45,264.28 640.92,264.39 641.38,264.59 641.85,264.36 642.32,264.75 642.79,264.61 643.25,264.46 643.72,264.75 644.19,264.28 644.66,264.65 645.12,264.72 645.59,264.61 646.06,264.61 646.53,264.50 646.99,264.52 647.46,264.35 647.93,264.52 648.40,264.47 648.86,264.65 649.33,264.43 649.80,264.62 650.27,264.79 650.74,264.16 651.20,263.57 651.67,262.19 652.14,260.73 652.61,258.72 653.07,256.88 653.54,254.24 654.01,251.42 654.48,248.44 654.94,245.98 655.41,243.21 655.88,240.81 656.35,238.10 656.81,236.51 657.28,235.04 657.75,234.04 658.22,233.40 658.68,232.55 659.15,232.11 659.62,231.13 660.09,230.86 660.55,230.37 661.02,229.70 661.49,229.59 661.96,228.71 662.42,228.19 662.89,228.03 663.36,227.31 663.83,226.94 664.29,226.33 664.76,226.01 665.23,225.74 665.70,225.14 666.16,224.93 666.63,224.58 667.10,224.19 667.57,223.90 668.04,223.75 668.50,223.83 668.97,223.30 669.44,223.25 669.91,222.88 670.37,222.91 670.84,222.54 671.31,222.57 671.78,222.55 672.24,222.40 672.71,222.61 673.18,222.16 673.65,222.14 674.11,222.23 674.58,221.91 675.05,221.84 675.52,221.75 675.98,221.74 676.45,221.52 676.92,221.45 677.39,221.48 677.85,221.44 678.32,221.43 678.79,221.39 679.26,221.15 679.72,221.27 680.19,221.35 680.66,221.06 681.13,220.89 681.59,221.06 682.06,220.85 682.53,220.89 683.00,221.09 683.46,220.87 683.93,220.92 684.40,220.80" fill="none" stroke="#1a1a1a" stroke-width="1.15" stroke-linejoin="round" />
</g>
<line x1="559.70" y1="217.20" x2="563.30" y2="217.20" stroke="#8a8a8a" stroke-width="1" />
<text x="556.00" y="220.00" font-size="7.9" text-anchor="end" fill="#333" >0</text>
<line x1="559.70" y1="267.20" x2="563.30" y2="267.20" stroke="#8a8a8a" stroke-width="1" />
<text x="556.00" y="270.00" font-size="7.9" text-anchor="end" fill="#333" >−500</text>
<line x1="559.70" y1="317.20" x2="563.30" y2="317.20" stroke="#8a8a8a" stroke-width="1" />
<text x="556.00" y="320.00" font-size="7.9" text-anchor="end" fill="#333" >−1,000</text>
<line x1="577.83" y1="317.20" x2="577.83" y2="320.80" stroke="#8a8a8a" stroke-width="1" />
<text x="577.83" y="331.60" font-size="7.9" text-anchor="middle" fill="#333" >0.5</text>
<line x1="602.05" y1="317.20" x2="602.05" y2="320.80" stroke="#8a8a8a" stroke-width="1" />
<text x="602.05" y="331.60" font-size="7.9" text-anchor="middle" fill="#333" >1.0</text>
<line x1="626.27" y1="317.20" x2="626.27" y2="320.80" stroke="#8a8a8a" stroke-width="1" />
<text x="626.27" y="331.60" font-size="7.9" text-anchor="middle" fill="#333" >1.5</text>
<line x1="650.49" y1="317.20" x2="650.49" y2="320.80" stroke="#8a8a8a" stroke-width="1" />
<text x="650.49" y="331.60" font-size="7.9" text-anchor="middle" fill="#333" >2.0</text>
<line x1="674.71" y1="317.20" x2="674.71" y2="320.80" stroke="#8a8a8a" stroke-width="1" />
<text x="674.71" y="331.60" font-size="7.9" text-anchor="middle" fill="#333" >2.5</text>
<text x="623.85" y="344.50" font-size="8.8" text-anchor="middle" fill="#333" textLength="36.5" lengthAdjust="spacingAndGlyphs" >Time (μs)</text>
<text x="624.00" y="200.20" font-size="8.6" text-anchor="middle" textLength="36.6" lengthAdjust="spacingAndGlyphs" >D pattern</text>
<text x="531.60" y="262.00" font-size="8.6" text-anchor="middle" fill="#333" textLength="49.2" lengthAdjust="spacingAndGlyphs" transform="rotate(-90 531.60 262.00)" >Current (μA)</text>
</g>
<line x1="103.90" y1="213.50" x2="111.30" y2="213.50" stroke="#5a9fd8" stroke-width="1.0" />
<line x1="103.90" y1="225.20" x2="111.30" y2="225.20" stroke="#444" stroke-width="1.0" />
<text x="114.70" y="215.90" font-size="8.2" fill="#222"><tspan font-style="italic">I</tspan><tspan font-size="6.20" dx="0.5" dy="2.9">1</tspan></text>
<text x="114.70" y="227.70" font-size="8.2" fill="#222"><tspan font-style="italic">I</tspan><tspan font-size="6.20" dx="0.5" dy="2.9">2</tspan></text>
<line x1="296.10" y1="213.50" x2="303.50" y2="213.50" stroke="#5a9fd8" stroke-width="1.0" />
<line x1="296.10" y1="225.20" x2="303.50" y2="225.20" stroke="#444" stroke-width="1.0" />
<text x="306.90" y="215.90" font-size="8.2" fill="#222"><tspan font-style="italic">I</tspan><tspan font-size="6.20" dx="0.5" dy="2.9">1</tspan></text>
<text x="306.90" y="227.70" font-size="8.2" fill="#222"><tspan font-style="italic">I</tspan><tspan font-size="6.20" dx="0.5" dy="2.9">2</tspan></text>
<line x1="475.70" y1="293.50" x2="483.10" y2="293.50" stroke="#5a9fd8" stroke-width="1.0" />
<line x1="475.70" y1="305.20" x2="483.10" y2="305.20" stroke="#444" stroke-width="1.0" />
<text x="486.50" y="295.90" font-size="8.2" fill="#222"><tspan font-style="italic">I</tspan><tspan font-size="6.20" dx="0.5" dy="2.9">1</tspan></text>
<text x="486.50" y="307.70" font-size="8.2" fill="#222"><tspan font-style="italic">I</tspan><tspan font-size="6.20" dx="0.5" dy="2.9">2</tspan></text>
<line x1="625.30" y1="213.50" x2="632.70" y2="213.50" stroke="#5a9fd8" stroke-width="1.0" />
<line x1="625.30" y1="225.20" x2="632.70" y2="225.20" stroke="#444" stroke-width="1.0" />
<text x="636.10" y="215.90" font-size="8.2" fill="#222"><tspan font-style="italic">I</tspan><tspan font-size="6.20" dx="0.5" dy="2.9">1</tspan></text>
<text x="636.10" y="227.70" font-size="8.2" fill="#222"><tspan font-style="italic">I</tspan><tspan font-size="6.20" dx="0.5" dy="2.9">2</tspan></text>
<text x="1.10" y="375.10" font-size="12.4" fill="#111" font-weight="bold" stroke="#111" stroke-width="0.55">e</text>
<text x="112.60" y="367.70" font-size="8.6" textLength="131.4" lengthAdjust="spacingAndGlyphs" >Sampling after the last time step</text>
<line x1="36.50" y1="384.40" x2="81.60" y2="384.40" stroke="#7a7a7a" stroke-width="0.9" />
<line x1="81.60" y1="384.40" x2="81.60" y2="511.30" stroke="#7a7a7a" stroke-width="0.9" />
<line x1="36.50" y1="384.40" x2="36.50" y2="511.30" stroke="#bdbdbd" stroke-width="1.2" />
<line x1="35.90" y1="511.30" x2="81.60" y2="511.30" stroke="#8a8a8a" stroke-width="1.1" />
<rect x="39.50" y="482.30" width="15.00" height="29.00" fill="#b4d6eb" stroke="#666" stroke-width="0.8" />
<line x1="47.50" y1="511.30" x2="47.50" y2="514.60" stroke="#8a8a8a" stroke-width="1" />
<text x="38.45" y="524.70" font-size="8.8" fill="#222"><tspan font-style="italic">V</tspan><tspan font-size="7.60" dx="-0.5" dy="3.3" textLength="11.8" lengthAdjust="spacingAndGlyphs">out1</tspan></text>
<rect x="59.50" y="510.95" width="15.00" height="0.35" fill="#a563b1" stroke="#333" stroke-width="1.2" />
<line x1="67.50" y1="511.30" x2="67.50" y2="514.60" stroke="#8a8a8a" stroke-width="1" />
<text x="58.75" y="524.70" font-size="8.8" fill="#222"><tspan font-style="italic">V</tspan><tspan font-size="7.60" dx="-0.5" dy="3.3" textLength="11.8" lengthAdjust="spacingAndGlyphs">out2</tspan></text>
<line x1="32.90" y1="511.30" x2="36.50" y2="511.30" stroke="#8a8a8a" stroke-width="1" />
<text x="29.30" y="514.30" font-size="8.3" text-anchor="end" fill="#333" textLength="4.35" lengthAdjust="spacingAndGlyphs" >0</text>
<line x1="32.90" y1="482.30" x2="36.50" y2="482.30" stroke="#8a8a8a" stroke-width="1" />
<text x="29.30" y="485.30" font-size="8.3" text-anchor="end" fill="#333" textLength="8.7" lengthAdjust="spacingAndGlyphs" >10</text>
<line x1="32.90" y1="453.30" x2="36.50" y2="453.30" stroke="#8a8a8a" stroke-width="1" />
<text x="29.30" y="456.30" font-size="8.3" text-anchor="end" fill="#333" textLength="8.7" lengthAdjust="spacingAndGlyphs" >20</text>
<line x1="32.90" y1="424.30" x2="36.50" y2="424.30" stroke="#8a8a8a" stroke-width="1" />
<text x="29.30" y="427.30" font-size="8.3" text-anchor="end" fill="#333" textLength="8.7" lengthAdjust="spacingAndGlyphs" >30</text>
<line x1="32.90" y1="395.30" x2="36.50" y2="395.30" stroke="#8a8a8a" stroke-width="1" />
<text x="29.30" y="398.30" font-size="8.3" text-anchor="end" fill="#333" textLength="8.7" lengthAdjust="spacingAndGlyphs" >40</text>
<text x="59.00" y="379.60" font-size="8.6" text-anchor="middle" textLength="36.8" lengthAdjust="spacingAndGlyphs" >U pattern</text>
<text x="12.80" y="447.80" font-size="8.8" text-anchor="middle" fill="#333" textLength="52.5" lengthAdjust="spacingAndGlyphs" transform="rotate(-90 12.80 447.80)" >Voltage (mV)</text>
<line x1="123.30" y1="384.40" x2="166.60" y2="384.40" stroke="#7a7a7a" stroke-width="0.9" />
<line x1="166.60" y1="384.40" x2="166.60" y2="511.30" stroke="#7a7a7a" stroke-width="0.9" />
<line x1="123.30" y1="384.40" x2="123.30" y2="511.30" stroke="#8a8a8a" stroke-width="1.2" />
<line x1="122.70" y1="511.30" x2="166.60" y2="511.30" stroke="#8a8a8a" stroke-width="1.1" />
<rect x="130.00" y="390.30" width="15.30" height="121.00" fill="#b4d6eb" stroke="#666" stroke-width="0.8" />
<line x1="137.50" y1="511.30" x2="137.50" y2="514.60" stroke="#8a8a8a" stroke-width="1" />
<text x="126.95" y="524.70" font-size="8.8" fill="#222"><tspan font-style="italic">V</tspan><tspan font-size="7.60" dx="-0.5" dy="3.3" textLength="11.8" lengthAdjust="spacingAndGlyphs">out1</tspan></text>
<rect x="147.50" y="453.22" width="15.50" height="58.08" fill="#a563b1" stroke="#4a2a5a" stroke-width="0.8" />
<line x1="155.50" y1="511.30" x2="155.50" y2="514.60" stroke="#8a8a8a" stroke-width="1" />
<text x="145.35" y="524.70" font-size="8.8" fill="#222"><tspan font-style="italic">V</tspan><tspan font-size="7.60" dx="-0.5" dy="3.3" textLength="11.8" lengthAdjust="spacingAndGlyphs">out2</tspan></text>
<line x1="119.70" y1="511.30" x2="123.30" y2="511.30" stroke="#8a8a8a" stroke-width="1" />
<text x="116.50" y="514.30" font-size="8.3" text-anchor="end" fill="#333" textLength="4.35" lengthAdjust="spacingAndGlyphs" >0</text>
<line x1="119.70" y1="487.10" x2="123.30" y2="487.10" stroke="#8a8a8a" stroke-width="1" />
<text x="116.50" y="490.10" font-size="8.3" text-anchor="end" fill="#333" textLength="8.7" lengthAdjust="spacingAndGlyphs" >20</text>
<line x1="119.70" y1="462.90" x2="123.30" y2="462.90" stroke="#8a8a8a" stroke-width="1" />
<text x="116.50" y="465.90" font-size="8.3" text-anchor="end" fill="#333" textLength="8.7" lengthAdjust="spacingAndGlyphs" >40</text>
<line x1="119.70" y1="438.70" x2="123.30" y2="438.70" stroke="#8a8a8a" stroke-width="1" />
<text x="116.50" y="441.70" font-size="8.3" text-anchor="end" fill="#333" textLength="8.7" lengthAdjust="spacingAndGlyphs" >60</text>
<line x1="119.70" y1="414.50" x2="123.30" y2="414.50" stroke="#8a8a8a" stroke-width="1" />
<text x="116.50" y="417.50" font-size="8.3" text-anchor="end" fill="#333" textLength="8.7" lengthAdjust="spacingAndGlyphs" >80</text>
<line x1="119.70" y1="390.30" x2="123.30" y2="390.30" stroke="#8a8a8a" stroke-width="1" />
<text x="116.50" y="393.30" font-size="8.3" text-anchor="end" fill="#333" textLength="13.049999999999999" lengthAdjust="spacingAndGlyphs" >100</text>
<text x="146.30" y="379.60" font-size="8.6" text-anchor="middle" textLength="36.8" lengthAdjust="spacingAndGlyphs" >C pattern</text>
<text x="100.20" y="447.80" font-size="8.8" text-anchor="middle" fill="#333" textLength="52.5" lengthAdjust="spacingAndGlyphs" transform="rotate(-90 100.20 447.80)" >Voltage (mV)</text>
<line x1="208.20" y1="384.40" x2="251.60" y2="384.40" stroke="#7a7a7a" stroke-width="0.9" />
<line x1="251.60" y1="384.40" x2="251.60" y2="511.30" stroke="#7a7a7a" stroke-width="0.9" />
<line x1="208.20" y1="384.40" x2="208.20" y2="511.30" stroke="#bdbdbd" stroke-width="1.2" />
<line x1="207.60" y1="511.30" x2="251.60" y2="511.30" stroke="#8a8a8a" stroke-width="1.1" />
<rect x="213.30" y="454.70" width="15.40" height="56.60" fill="#b4d6eb" stroke="#666" stroke-width="0.8" />
<line x1="219.50" y1="511.30" x2="219.50" y2="514.60" stroke="#8a8a8a" stroke-width="1" />
<text x="211.35" y="524.70" font-size="8.8" fill="#222"><tspan font-style="italic">V</tspan><tspan font-size="7.60" dx="-0.5" dy="3.3" textLength="11.8" lengthAdjust="spacingAndGlyphs">out1</tspan></text>
<rect x="230.30" y="502.81" width="16.40" height="8.49" fill="#a563b1" stroke="#4a2a5a" stroke-width="0.8" />
<line x1="238.30" y1="511.30" x2="238.30" y2="514.60" stroke="#8a8a8a" stroke-width="1" />
<text x="229.75" y="524.70" font-size="8.8" fill="#222"><tspan font-style="italic">V</tspan><tspan font-size="7.60" dx="-0.5" dy="3.3" textLength="11.8" lengthAdjust="spacingAndGlyphs">out2</tspan></text>
<line x1="204.60" y1="511.30" x2="208.20" y2="511.30" stroke="#8a8a8a" stroke-width="1" />
<text x="201.40" y="514.30" font-size="8.3" text-anchor="end" fill="#333" textLength="4.35" lengthAdjust="spacingAndGlyphs" >0</text>
<line x1="204.60" y1="483.00" x2="208.20" y2="483.00" stroke="#8a8a8a" stroke-width="1" />
<text x="201.40" y="486.00" font-size="8.3" text-anchor="end" fill="#333" textLength="8.7" lengthAdjust="spacingAndGlyphs" >10</text>
<line x1="204.60" y1="454.70" x2="208.20" y2="454.70" stroke="#8a8a8a" stroke-width="1" />
<text x="201.40" y="457.70" font-size="8.3" text-anchor="end" fill="#333" textLength="8.7" lengthAdjust="spacingAndGlyphs" >20</text>
<line x1="204.60" y1="426.40" x2="208.20" y2="426.40" stroke="#8a8a8a" stroke-width="1" />
<text x="201.40" y="429.40" font-size="8.3" text-anchor="end" fill="#333" textLength="8.7" lengthAdjust="spacingAndGlyphs" >30</text>
<line x1="204.60" y1="398.10" x2="208.20" y2="398.10" stroke="#8a8a8a" stroke-width="1" />
<text x="201.40" y="401.10" font-size="8.3" text-anchor="end" fill="#333" textLength="8.7" lengthAdjust="spacingAndGlyphs" >40</text>
<text x="231.60" y="379.60" font-size="8.6" text-anchor="middle" textLength="36.8" lengthAdjust="spacingAndGlyphs" >S pattern</text>
<text x="186.00" y="447.80" font-size="8.8" text-anchor="middle" fill="#333" textLength="52.5" lengthAdjust="spacingAndGlyphs" transform="rotate(-90 186.00 447.80)" >Voltage (mV)</text>
<line x1="290.40" y1="384.40" x2="333.40" y2="384.40" stroke="#7a7a7a" stroke-width="0.9" />
<line x1="333.40" y1="384.40" x2="333.40" y2="511.80" stroke="#7a7a7a" stroke-width="0.9" />
<line x1="290.40" y1="384.40" x2="290.40" y2="511.80" stroke="#999999" stroke-width="1.2" />
<line x1="289.80" y1="511.80" x2="333.40" y2="511.80" stroke="#8a8a8a" stroke-width="1.1" />
<rect x="295.30" y="433.43" width="15.50" height="78.38" fill="#b4d6eb" stroke="#666" stroke-width="0.8" />
<line x1="302.80" y1="511.80" x2="302.80" y2="515.10" stroke="#8a8a8a" stroke-width="1" />
<text x="294.55" y="524.70" font-size="8.8" fill="#222"><tspan font-style="italic">V</tspan><tspan font-size="7.60" dx="-0.5" dy="3.3" textLength="11.8" lengthAdjust="spacingAndGlyphs">out1</tspan></text>
<rect x="312.80" y="469.05" width="15.90" height="42.75" fill="#a563b1" stroke="#4a2a5a" stroke-width="0.8" />
<line x1="321.70" y1="511.80" x2="321.70" y2="515.10" stroke="#8a8a8a" stroke-width="1" />
<text x="312.55" y="524.70" font-size="8.8" fill="#222"><tspan font-style="italic">V</tspan><tspan font-size="7.60" dx="-0.5" dy="3.3" textLength="11.8" lengthAdjust="spacingAndGlyphs">out2</tspan></text>
<line x1="286.80" y1="511.80" x2="290.40" y2="511.80" stroke="#8a8a8a" stroke-width="1" />
<text x="282.60" y="514.80" font-size="8.3" text-anchor="end" fill="#333" textLength="4.35" lengthAdjust="spacingAndGlyphs" >0</text>
<line x1="286.80" y1="483.30" x2="290.40" y2="483.30" stroke="#8a8a8a" stroke-width="1" />
<text x="282.60" y="486.30" font-size="8.3" text-anchor="end" fill="#333" textLength="8.7" lengthAdjust="spacingAndGlyphs" >10</text>
<line x1="286.80" y1="454.80" x2="290.40" y2="454.80" stroke="#8a8a8a" stroke-width="1" />
<text x="282.60" y="457.80" font-size="8.3" text-anchor="end" fill="#333" textLength="8.7" lengthAdjust="spacingAndGlyphs" >20</text>
<line x1="286.80" y1="426.30" x2="290.40" y2="426.30" stroke="#8a8a8a" stroke-width="1" />
<text x="282.60" y="429.30" font-size="8.3" text-anchor="end" fill="#333" textLength="8.7" lengthAdjust="spacingAndGlyphs" >30</text>
<line x1="286.80" y1="397.80" x2="290.40" y2="397.80" stroke="#8a8a8a" stroke-width="1" />
<text x="282.60" y="400.80" font-size="8.3" text-anchor="end" fill="#333" textLength="8.7" lengthAdjust="spacingAndGlyphs" >40</text>
<text x="313.20" y="379.60" font-size="8.6" text-anchor="middle" textLength="36.8" lengthAdjust="spacingAndGlyphs" >D pattern</text>
<text x="268.80" y="447.80" font-size="8.8" text-anchor="middle" fill="#333" textLength="52.5" lengthAdjust="spacingAndGlyphs" transform="rotate(-90 268.80 447.80)" >Voltage (mV)</text>
<text x="387.00" y="374.60" font-size="11.6" fill="#111" font-weight="bold" stroke="#111" stroke-width="0.55">f</text>
<rect x="389.40" y="413.20" width="20.10" height="22.10" fill="#f77a1e" stroke="#6a4a1a" stroke-width="0.5" />
<rect x="409.50" y="413.20" width="21.40" height="22.10" fill="#fbb01e" stroke="#6a4a1a" stroke-width="0.5" />
<rect x="430.90" y="413.20" width="20.60" height="22.10" fill="#fdee1a" stroke="#6a4a1a" stroke-width="0.5" />
<rect x="451.50" y="413.20" width="21.10" height="22.10" fill="#f97c1e" stroke="#6a4a1a" stroke-width="0.5" />
<rect x="389.40" y="435.30" width="20.10" height="22.20" fill="#f98a1e" stroke="#6a4a1a" stroke-width="0.5" />
<rect x="409.50" y="435.30" width="21.40" height="22.20" fill="#fa9c1e" stroke="#6a4a1a" stroke-width="0.5" />
<rect x="430.90" y="435.30" width="20.60" height="22.20" fill="#f5231e" stroke="#6a4a1a" stroke-width="0.5" />
<rect x="451.50" y="435.30" width="21.10" height="22.20" fill="#fdf71a" stroke="#6a4a1a" stroke-width="0.5" />
<rect x="389.40" y="457.50" width="20.10" height="22.80" fill="#fbab1e" stroke="#6a4a1a" stroke-width="0.5" />
<rect x="409.50" y="457.50" width="21.40" height="22.80" fill="#fa9f1e" stroke="#6a4a1a" stroke-width="0.5" />
<rect x="430.90" y="457.50" width="20.60" height="22.80" fill="#f9911e" stroke="#6a4a1a" stroke-width="0.5" />
<rect x="451.50" y="457.50" width="21.10" height="22.80" fill="#fbae1e" stroke="#6a4a1a" stroke-width="0.5" />
<rect x="389.40" y="413.20" width="83.20" height="67.10" fill="none" stroke="#111" stroke-width="1.0" />
<defs><linearGradient id="gf" x1="0" y1="0" x2="0" y2="1"><stop offset="0" stop-color="#ffff1c"/><stop offset="0.25" stop-color="#fcd41c"/><stop offset="0.45" stop-color="#fb9e1e"/><stop offset="0.62" stop-color="#f8601e"/><stop offset="0.76" stop-color="#f5231e"/><stop offset="1" stop-color="#f5201e"/></linearGradient><linearGradient id="gg" x1="0" y1="0" x2="0" y2="1"><stop offset="0" stop-color="#0070c0"/><stop offset="0.12" stop-color="#0a7cc6"/><stop offset="0.3" stop-color="#1f95d3"/><stop offset="0.5" stop-color="#6cb4de"/><stop offset="0.75" stop-color="#b2d6ee"/><stop offset="1" stop-color="#e8f1fa"/></linearGradient></defs>
<rect x="475.80" y="412.90" width="13.90" height="66.50" fill="url(#gf)" stroke="none" stroke-width="1" />
<line x1="487.30" y1="423.00" x2="489.70" y2="423.00" stroke="#333" stroke-width="0.8" />
<text x="492.20" y="425.60" font-size="7.6" fill="#333" >2.8</text>
<line x1="487.30" y1="439.20" x2="489.70" y2="439.20" stroke="#333" stroke-width="0.8" />
<text x="492.20" y="441.80" font-size="7.6" fill="#333" >2.2</text>
<line x1="487.30" y1="455.40" x2="489.70" y2="455.40" stroke="#333" stroke-width="0.8" />
<text x="492.20" y="458.00" font-size="7.6" fill="#333" >1.6</text>
<line x1="487.30" y1="471.20" x2="489.70" y2="471.20" stroke="#333" stroke-width="0.8" />
<text x="492.20" y="473.80" font-size="7.6" fill="#333" >1.0</text>
<text x="466.40" y="407.20" font-size="8.6" textLength="47.0" lengthAdjust="spacingAndGlyphs" >Weight (μS)</text>
<text x="392.00" y="494.00" font-size="8.6" textLength="96.8" lengthAdjust="spacingAndGlyphs" >Reference weight 2.2 μS</text>
<text x="541.40" y="375.50" font-size="12.5" fill="#111" font-weight="bold" stroke="#111" stroke-width="0.55">g</text>
<text x="646.90" y="384.70" font-size="8.6" text-anchor="middle" textLength="45.3" lengthAdjust="spacingAndGlyphs" >Normalized</text>
<text x="648.20" y="394.50" font-size="8.6" text-anchor="middle" textLength="58.0" lengthAdjust="spacingAndGlyphs" >current output</text>
<rect x="552.90" y="401.10" width="21.50" height="21.20" fill="#0070c0" stroke="none" stroke-width="0" />
<rect x="574.40" y="401.10" width="22.30" height="21.20" fill="#e3eff9" stroke="none" stroke-width="0" />
<rect x="596.70" y="401.10" width="22.50" height="21.20" fill="#b8dbf0" stroke="none" stroke-width="0" />
<rect x="619.20" y="401.10" width="21.30" height="21.20" fill="#84c2e4" stroke="none" stroke-width="0" />
<rect x="552.90" y="422.30" width="21.50" height="23.00" fill="#e3eff9" stroke="none" stroke-width="0" />
<rect x="574.40" y="422.30" width="22.30" height="23.00" fill="#0070c0" stroke="none" stroke-width="0" />
<rect x="596.70" y="422.30" width="22.50" height="23.00" fill="#e6f1fa" stroke="none" stroke-width="0" />
<rect x="619.20" y="422.30" width="21.30" height="23.00" fill="#5aaddc" stroke="none" stroke-width="0" />
<rect x="552.90" y="445.30" width="21.50" height="23.00" fill="#2299d4" stroke="none" stroke-width="0" />
<rect x="574.40" y="445.30" width="22.30" height="23.00" fill="#badcf0" stroke="none" stroke-width="0" />
<rect x="596.70" y="445.30" width="22.50" height="23.00" fill="#0070c0" stroke="none" stroke-width="0" />
<rect x="619.20" y="445.30" width="21.30" height="23.00" fill="#7dbde3" stroke="none" stroke-width="0" />
<rect x="552.90" y="468.30" width="21.50" height="21.20" fill="#91c6e6" stroke="none" stroke-width="0" />
<rect x="574.40" y="468.30" width="22.30" height="21.20" fill="#74b8e0" stroke="none" stroke-width="0" />
<rect x="596.70" y="468.30" width="22.50" height="21.20" fill="#e6f1fa" stroke="none" stroke-width="0" />
<rect x="619.20" y="468.30" width="21.30" height="21.20" fill="#0070c0" stroke="none" stroke-width="0" />
<line x1="574.40" y1="401.10" x2="574.40" y2="489.50" stroke="#3a4048" stroke-width="0.8" />
<line x1="596.70" y1="401.10" x2="596.70" y2="489.50" stroke="#3a4048" stroke-width="0.8" />
<line x1="619.20" y1="401.10" x2="619.20" y2="489.50" stroke="#3a4048" stroke-width="0.8" />
<line x1="552.90" y1="422.30" x2="640.50" y2="422.30" stroke="#3a4048" stroke-width="0.8" />
<line x1="552.90" y1="445.30" x2="640.50" y2="445.30" stroke="#3a4048" stroke-width="0.8" />
<line x1="552.90" y1="468.30" x2="640.50" y2="468.30" stroke="#3a4048" stroke-width="0.8" />
<rect x="643.30" y="400.00" width="13.60" height="89.50" fill="url(#gg)" stroke="none" stroke-width="1" />
<line x1="654.60" y1="400.40" x2="657.40" y2="400.40" stroke="#333" stroke-width="0.8" />
<text x="660.20" y="403.20" font-size="7.6" fill="#333" >1.0</text>
<line x1="654.60" y1="443.60" x2="657.40" y2="443.60" stroke="#333" stroke-width="0.8" />
<text x="660.20" y="446.40" font-size="7.6" fill="#333" >0.5</text>
<line x1="654.60" y1="488.50" x2="657.40" y2="488.50" stroke="#333" stroke-width="0.8" />
<text x="660.20" y="491.30" font-size="7.6" fill="#333" >0</text>
<text x="547.50" y="413.80" font-size="8.6" text-anchor="middle" >U</text>
<text x="547.50" y="436.20" font-size="8.6" text-anchor="middle" >C</text>
<text x="547.50" y="459.40" font-size="8.6" text-anchor="middle" >S</text>
<text x="547.50" y="482.60" font-size="8.6" text-anchor="middle" >D</text>
<text x="555.80" y="500.80" font-size="8.6" fill="#222"><tspan font-style="italic">I</tspan><tspan font-size="7.20" dx="0.1" dy="2.7" textLength="10.8" lengthAdjust="spacingAndGlyphs">out1</tspan></text>
<text x="577.80" y="500.80" font-size="8.6" fill="#222"><tspan font-style="italic">I</tspan><tspan font-size="7.20" dx="0.1" dy="2.7" textLength="10.8" lengthAdjust="spacingAndGlyphs">out2</tspan></text>
<text x="600.50" y="500.80" font-size="8.6" fill="#222"><tspan font-style="italic">I</tspan><tspan font-size="7.20" dx="0.1" dy="2.7" textLength="10.8" lengthAdjust="spacingAndGlyphs">out3</tspan></text>
<text x="623.00" y="500.80" font-size="8.6" fill="#222"><tspan font-style="italic">I</tspan><tspan font-size="7.20" dx="0.1" dy="2.7" textLength="10.8" lengthAdjust="spacingAndGlyphs">out4</tspan></text>
</svg></body></html>
